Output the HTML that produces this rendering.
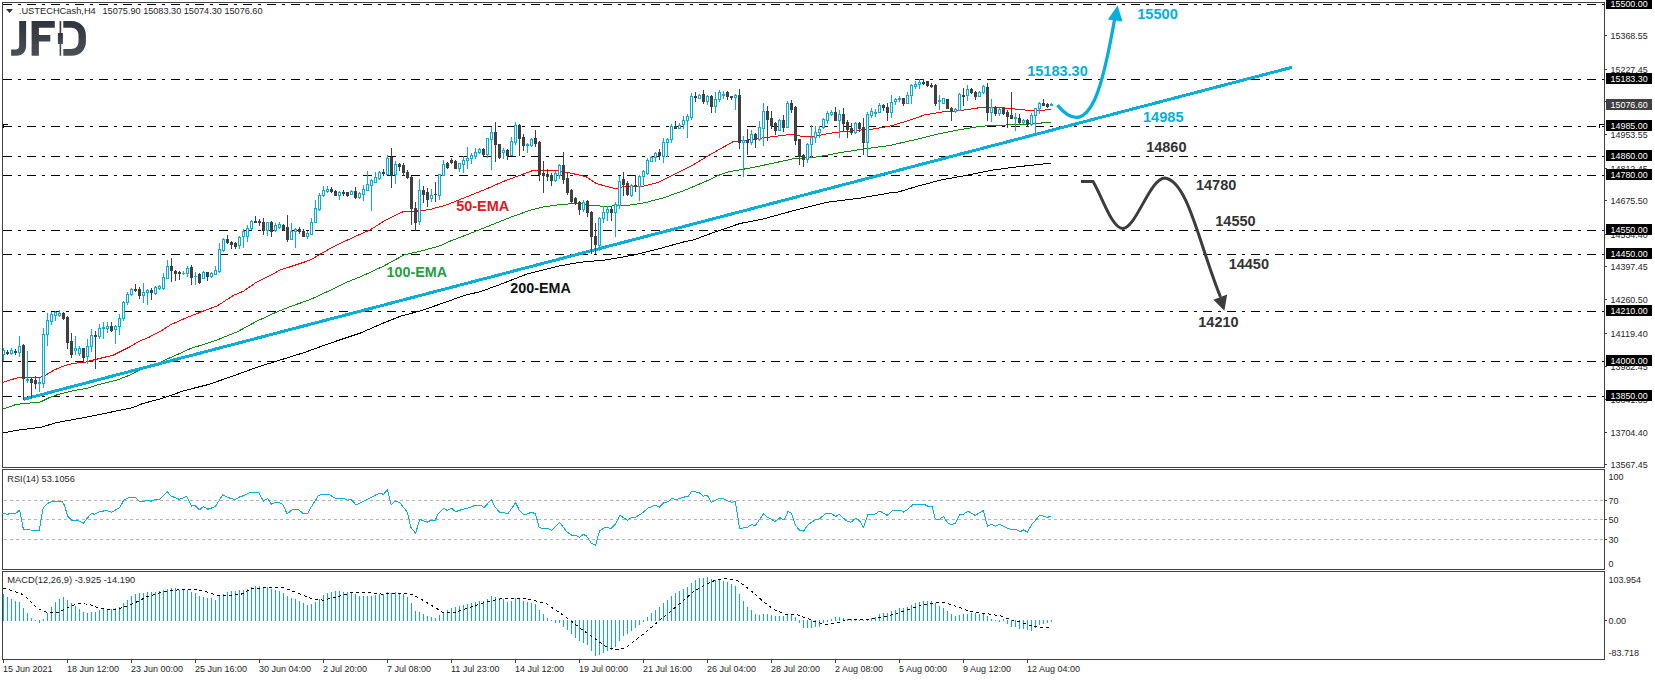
<!DOCTYPE html>
<html><head><meta charset="utf-8"><style>
html,body{margin:0;padding:0;background:#fff;width:1655px;height:680px;overflow:hidden}
svg text{font-family:"Liberation Sans",sans-serif}
</style></head><body>
<svg width="1655" height="680" viewBox="0 0 1655 680" style="display:block" font-family="Liberation Sans, sans-serif">
<rect x="0" y="0" width="1655" height="680" fill="#fff"/>
<g shape-rendering="crispEdges">
<line x1="3" y1="4.5" x2="1604" y2="4.5" stroke="#000" stroke-width="1" stroke-dasharray="9 6 3 6"/>
<line x1="3" y1="79.5" x2="1604" y2="79.5" stroke="#000" stroke-width="1" stroke-dasharray="9 6 3 6"/>
<line x1="3" y1="126.5" x2="1604" y2="126.5" stroke="#000" stroke-width="1" stroke-dasharray="9 6 3 6"/>
<line x1="3" y1="156.5" x2="1604" y2="156.5" stroke="#000" stroke-width="1" stroke-dasharray="9 6 3 6"/>
<line x1="3" y1="175.5" x2="1604" y2="175.5" stroke="#000" stroke-width="1" stroke-dasharray="9 6 3 6"/>
<line x1="3" y1="230.5" x2="1604" y2="230.5" stroke="#000" stroke-width="1" stroke-dasharray="9 6 3 6"/>
<line x1="3" y1="254.5" x2="1604" y2="254.5" stroke="#000" stroke-width="1" stroke-dasharray="9 6 3 6"/>
<line x1="3" y1="311.5" x2="1604" y2="311.5" stroke="#000" stroke-width="1" stroke-dasharray="9 6 3 6"/>
<line x1="3" y1="361.5" x2="1604" y2="361.5" stroke="#000" stroke-width="1" stroke-dasharray="9 6 3 6"/>
<line x1="3" y1="396.5" x2="1604" y2="396.5" stroke="#000" stroke-width="1" stroke-dasharray="9 6 3 6"/>
</g>
<g fill="none" stroke-width="1" shape-rendering="crispEdges">
<polyline points="2.4,433.2 16.2,430.3 40.5,427.4 56.6,422.6 80.9,418.2 105.2,413.3 132.7,407.7 142.4,403.6 160.0,399.0 169.7,395.8 184.3,390.6 208.5,384.5 232.8,376.1 257.1,367.2 276.5,361.2 305.6,352.1 320.0,346.8 336.2,341.1 360.5,333.0 384.7,322.5 400.9,316.1 420.3,310.9 443.0,303.1 465.6,295.0 480.0,291.8 500.0,284.5 526.6,274.2 559.8,265.9 579.8,262.3 606.3,259.9 632.9,255.2 659.5,248.6 686.1,241.3 693.3,240.0 717.5,231.1 722.4,229.5 740.0,223.5 762.4,219.2 794.7,210.3 827.1,202.2 859.5,198.2 890.0,192.9 896.9,192.4 915.8,186.7 941.6,179.8 967.5,175.2 993.3,170.0 1019.1,166.6 1050.9,163.1" stroke="#000"/>
<polyline points="2.4,409.3 16.2,404.4 40.5,402.0 50.2,397.2 58.3,394.4 72.8,390.7 87.4,388.3 97.1,385.0 116.5,380.2 129.4,375.3 142.4,368.8 160.0,362.3 190.7,348.5 215.0,340.8 237.7,331.6 257.1,321.0 276.5,312.1 292.7,305.7 309.1,300.0 328.5,291.1 344.7,283.0 360.9,276.6 383.6,266.1 404.1,254.9 420.3,251.2 440.0,245.8 449.4,241.4 470.5,233.3 494.7,223.6 510.9,217.2 530.3,210.2 543.3,207.0 562.7,204.2 580.0,203.6 589.7,205.2 604.3,206.4 628.5,205.2 644.7,202.8 664.1,197.6 683.6,190.7 703.0,182.6 722.4,173.7 730.0,171.5 751.0,167.9 772.1,163.4 794.7,158.5 817.4,156.9 843.3,152.1 867.5,148.5 890.0,145.4 914.1,139.9 938.2,133.9 958.8,129.9 979.5,126.5 993.3,125.3 1013.9,124.8 1034.6,123.6 1050.9,122.2" stroke="#0a8a0a"/>
<polyline points="2.4,382.6 9.7,380.2 17.8,377.7 38.8,377.7 45.3,375.3 55.0,369.6 64.7,365.6 74.4,363.2 84.1,362.4 93.9,359.9 103.6,357.5 113.3,355.1 123.0,350.2 129.4,347.0 139.2,341.3 148.9,337.3 162.4,330.1 170.5,324.8 186.6,317.6 204.4,310.7 217.4,305.8 233.6,295.3 243.3,291.3 256.2,282.4 270.8,275.1 280.0,270.1 296.2,264.8 310.7,259.9 325.3,251.2 338.3,244.2 354.4,236.9 370.6,229.6 386.8,219.4 404.6,211.0 417.5,211.0 430.0,209.5 446.2,205.0 462.4,198.5 485.0,189.6 502.8,181.6 520.6,175.1 533.6,170.2 559.4,171.0 572.4,173.5 580.0,175.3 586.5,176.9 596.2,183.4 605.9,186.3 615.6,188.6 622.1,187.0 641.5,186.6 657.7,182.6 673.9,174.5 693.3,164.8 709.4,155.1 733.7,141.3 738.1,141.1 754.3,139.1 772.1,136.7 791.5,134.3 801.2,136.2 814.1,136.2 833.6,132.7 853.0,130.7 872.4,129.1 890.0,126.1 907.2,121.0 924.4,115.0 941.6,112.0 962.3,110.3 982.9,107.2 1000.2,107.6 1013.9,108.9 1027.7,110.3 1038.0,110.3 1045.0,110.2 1046.0,109.4 1051.0,109.4" stroke="#ff0000"/>
</g>
<line x1="23.5" y1="399.3" x2="1292" y2="67.3" stroke="#05afdb" stroke-width="3" shape-rendering="crispEdges"/>
<g shape-rendering="crispEdges">
<rect x="3" y="348" width="1" height="2" fill="#05afdb"/>
<rect x="3" y="355" width="1" height="6" fill="#05afdb"/>
<rect x="2" y="350" width="3" height="5" fill="#05afdb"/>
<rect x="3" y="351" width="1" height="3" fill="#fff"/>
<rect x="7" y="350" width="1" height="5" fill="#404040"/>
<rect x="6" y="352" width="3" height="2" fill="#404040"/>
<rect x="11" y="348" width="1" height="2" fill="#05afdb"/>
<rect x="11" y="354" width="1" height="1" fill="#05afdb"/>
<rect x="10" y="350" width="3" height="4" fill="#05afdb"/>
<rect x="11" y="351" width="1" height="2" fill="#fff"/>
<rect x="15" y="349" width="1" height="6" fill="#404040"/>
<rect x="14" y="351" width="3" height="2" fill="#404040"/>
<rect x="19" y="336" width="1" height="10" fill="#05afdb"/>
<rect x="19" y="353" width="1" height="4" fill="#05afdb"/>
<rect x="18" y="346" width="3" height="7" fill="#05afdb"/>
<rect x="19" y="347" width="1" height="5" fill="#fff"/>
<rect x="23" y="344" width="1" height="56" fill="#404040"/>
<rect x="22" y="345" width="3" height="34" fill="#404040"/>
<rect x="27" y="351" width="1" height="28" fill="#05afdb"/>
<rect x="27" y="381" width="1" height="2" fill="#05afdb"/>
<rect x="26" y="379" width="3" height="2" fill="#05afdb"/>
<rect x="31" y="378" width="1" height="20" fill="#404040"/>
<rect x="30" y="379" width="3" height="4" fill="#404040"/>
<rect x="35" y="376" width="1" height="13" fill="#404040"/>
<rect x="34" y="380" width="3" height="4" fill="#404040"/>
<rect x="39" y="378" width="1" height="4" fill="#05afdb"/>
<rect x="39" y="384" width="1" height="8" fill="#05afdb"/>
<rect x="38" y="382" width="3" height="2" fill="#05afdb"/>
<rect x="43" y="328" width="1" height="6" fill="#05afdb"/>
<rect x="43" y="384" width="1" height="4" fill="#05afdb"/>
<rect x="42" y="334" width="3" height="50" fill="#05afdb"/>
<rect x="43" y="335" width="1" height="48" fill="#fff"/>
<rect x="47" y="313" width="1" height="7" fill="#05afdb"/>
<rect x="47" y="335" width="1" height="11" fill="#05afdb"/>
<rect x="46" y="320" width="3" height="15" fill="#05afdb"/>
<rect x="47" y="321" width="1" height="13" fill="#fff"/>
<rect x="51" y="312" width="1" height="2" fill="#05afdb"/>
<rect x="51" y="322" width="1" height="3" fill="#05afdb"/>
<rect x="50" y="314" width="3" height="8" fill="#05afdb"/>
<rect x="51" y="315" width="1" height="6" fill="#fff"/>
<rect x="55" y="311" width="1" height="1" fill="#05afdb"/>
<rect x="55" y="316" width="1" height="5" fill="#05afdb"/>
<rect x="54" y="312" width="3" height="4" fill="#05afdb"/>
<rect x="55" y="313" width="1" height="2" fill="#fff"/>
<rect x="59" y="310" width="1" height="3" fill="#05afdb"/>
<rect x="59" y="316" width="1" height="1" fill="#05afdb"/>
<rect x="58" y="313" width="3" height="3" fill="#05afdb"/>
<rect x="59" y="314" width="1" height="1" fill="#fff"/>
<rect x="63" y="312" width="1" height="8" fill="#404040"/>
<rect x="62" y="313" width="3" height="6" fill="#404040"/>
<rect x="67" y="316" width="1" height="33" fill="#404040"/>
<rect x="66" y="317" width="3" height="26" fill="#404040"/>
<rect x="71" y="333" width="1" height="25" fill="#404040"/>
<rect x="70" y="341" width="3" height="14" fill="#404040"/>
<rect x="75" y="336" width="1" height="12" fill="#05afdb"/>
<rect x="75" y="351" width="1" height="4" fill="#05afdb"/>
<rect x="74" y="348" width="3" height="3" fill="#05afdb"/>
<rect x="75" y="349" width="1" height="1" fill="#fff"/>
<rect x="79" y="346" width="1" height="2" fill="#05afdb"/>
<rect x="79" y="354" width="1" height="2" fill="#05afdb"/>
<rect x="78" y="348" width="3" height="6" fill="#05afdb"/>
<rect x="79" y="349" width="1" height="4" fill="#fff"/>
<rect x="83" y="348" width="1" height="15" fill="#404040"/>
<rect x="82" y="348" width="3" height="10" fill="#404040"/>
<rect x="87" y="339" width="1" height="7" fill="#05afdb"/>
<rect x="87" y="357" width="1" height="7" fill="#05afdb"/>
<rect x="86" y="346" width="3" height="11" fill="#05afdb"/>
<rect x="87" y="347" width="1" height="9" fill="#fff"/>
<rect x="91" y="329" width="1" height="6" fill="#05afdb"/>
<rect x="91" y="347" width="1" height="5" fill="#05afdb"/>
<rect x="90" y="335" width="3" height="12" fill="#05afdb"/>
<rect x="91" y="336" width="1" height="10" fill="#fff"/>
<rect x="95" y="331" width="1" height="38" fill="#404040"/>
<rect x="94" y="335" width="3" height="2" fill="#404040"/>
<rect x="99" y="324" width="1" height="4" fill="#05afdb"/>
<rect x="99" y="337" width="1" height="2" fill="#05afdb"/>
<rect x="98" y="328" width="3" height="9" fill="#05afdb"/>
<rect x="99" y="329" width="1" height="7" fill="#fff"/>
<rect x="103" y="322" width="1" height="5" fill="#05afdb"/>
<rect x="103" y="329" width="1" height="10" fill="#05afdb"/>
<rect x="102" y="327" width="3" height="2" fill="#05afdb"/>
<rect x="107" y="322" width="1" height="4" fill="#05afdb"/>
<rect x="107" y="329" width="1" height="4" fill="#05afdb"/>
<rect x="106" y="326" width="3" height="3" fill="#05afdb"/>
<rect x="107" y="327" width="1" height="1" fill="#fff"/>
<rect x="111" y="322" width="1" height="10" fill="#404040"/>
<rect x="110" y="326" width="3" height="5" fill="#404040"/>
<rect x="115" y="325" width="1" height="1" fill="#05afdb"/>
<rect x="115" y="330" width="1" height="14" fill="#05afdb"/>
<rect x="114" y="326" width="3" height="4" fill="#05afdb"/>
<rect x="115" y="327" width="1" height="2" fill="#fff"/>
<rect x="119" y="314" width="1" height="4" fill="#05afdb"/>
<rect x="119" y="327" width="1" height="8" fill="#05afdb"/>
<rect x="118" y="318" width="3" height="9" fill="#05afdb"/>
<rect x="119" y="319" width="1" height="7" fill="#fff"/>
<rect x="123" y="301" width="1" height="1" fill="#05afdb"/>
<rect x="123" y="319" width="1" height="2" fill="#05afdb"/>
<rect x="122" y="302" width="3" height="17" fill="#05afdb"/>
<rect x="123" y="303" width="1" height="15" fill="#fff"/>
<rect x="127" y="292" width="1" height="2" fill="#05afdb"/>
<rect x="127" y="303" width="1" height="2" fill="#05afdb"/>
<rect x="126" y="294" width="3" height="9" fill="#05afdb"/>
<rect x="127" y="295" width="1" height="7" fill="#fff"/>
<rect x="131" y="288" width="1" height="1" fill="#05afdb"/>
<rect x="131" y="295" width="1" height="1" fill="#05afdb"/>
<rect x="130" y="289" width="3" height="6" fill="#05afdb"/>
<rect x="131" y="290" width="1" height="4" fill="#fff"/>
<rect x="135" y="284" width="1" height="8" fill="#404040"/>
<rect x="134" y="289" width="3" height="2" fill="#404040"/>
<rect x="139" y="287" width="1" height="12" fill="#404040"/>
<rect x="138" y="289" width="3" height="7" fill="#404040"/>
<rect x="143" y="283" width="1" height="9" fill="#05afdb"/>
<rect x="143" y="296" width="1" height="7" fill="#05afdb"/>
<rect x="142" y="292" width="3" height="4" fill="#05afdb"/>
<rect x="143" y="293" width="1" height="2" fill="#fff"/>
<rect x="147" y="289" width="1" height="1" fill="#05afdb"/>
<rect x="147" y="293" width="1" height="12" fill="#05afdb"/>
<rect x="146" y="290" width="3" height="3" fill="#05afdb"/>
<rect x="147" y="291" width="1" height="1" fill="#fff"/>
<rect x="151" y="288" width="1" height="12" fill="#404040"/>
<rect x="150" y="290" width="3" height="3" fill="#404040"/>
<rect x="155" y="286" width="1" height="1" fill="#05afdb"/>
<rect x="155" y="294" width="1" height="1" fill="#05afdb"/>
<rect x="154" y="287" width="3" height="7" fill="#05afdb"/>
<rect x="155" y="288" width="1" height="5" fill="#fff"/>
<rect x="159" y="285" width="1" height="1" fill="#05afdb"/>
<rect x="159" y="289" width="1" height="1" fill="#05afdb"/>
<rect x="158" y="286" width="3" height="3" fill="#05afdb"/>
<rect x="159" y="287" width="1" height="1" fill="#fff"/>
<rect x="163" y="273" width="1" height="4" fill="#05afdb"/>
<rect x="163" y="289" width="1" height="1" fill="#05afdb"/>
<rect x="162" y="277" width="3" height="12" fill="#05afdb"/>
<rect x="163" y="278" width="1" height="10" fill="#fff"/>
<rect x="167" y="260" width="1" height="6" fill="#05afdb"/>
<rect x="166" y="266" width="3" height="13" fill="#05afdb"/>
<rect x="167" y="267" width="1" height="11" fill="#fff"/>
<rect x="171" y="258" width="1" height="24" fill="#404040"/>
<rect x="170" y="266" width="3" height="5" fill="#404040"/>
<rect x="175" y="270" width="1" height="11" fill="#404040"/>
<rect x="174" y="271" width="3" height="3" fill="#404040"/>
<rect x="179" y="271" width="1" height="9" fill="#404040"/>
<rect x="178" y="272" width="3" height="2" fill="#404040"/>
<rect x="183" y="271" width="1" height="2" fill="#05afdb"/>
<rect x="183" y="274" width="1" height="1" fill="#05afdb"/>
<rect x="182" y="273" width="3" height="1" fill="#05afdb"/>
<rect x="187" y="266" width="1" height="2" fill="#05afdb"/>
<rect x="187" y="274" width="1" height="3" fill="#05afdb"/>
<rect x="186" y="268" width="3" height="6" fill="#05afdb"/>
<rect x="187" y="269" width="1" height="4" fill="#fff"/>
<rect x="191" y="265" width="1" height="20" fill="#404040"/>
<rect x="190" y="267" width="3" height="11" fill="#404040"/>
<rect x="195" y="272" width="1" height="4" fill="#05afdb"/>
<rect x="195" y="277" width="1" height="8" fill="#05afdb"/>
<rect x="194" y="276" width="3" height="1" fill="#05afdb"/>
<rect x="199" y="273" width="1" height="11" fill="#404040"/>
<rect x="198" y="274" width="3" height="9" fill="#404040"/>
<rect x="203" y="271" width="1" height="1" fill="#05afdb"/>
<rect x="202" y="272" width="3" height="7" fill="#05afdb"/>
<rect x="203" y="273" width="1" height="5" fill="#fff"/>
<rect x="207" y="272" width="1" height="9" fill="#404040"/>
<rect x="206" y="272" width="3" height="5" fill="#404040"/>
<rect x="211" y="272" width="1" height="1" fill="#05afdb"/>
<rect x="211" y="277" width="1" height="1" fill="#05afdb"/>
<rect x="210" y="273" width="3" height="4" fill="#05afdb"/>
<rect x="211" y="274" width="1" height="2" fill="#fff"/>
<rect x="215" y="266" width="1" height="4" fill="#05afdb"/>
<rect x="214" y="270" width="3" height="5" fill="#05afdb"/>
<rect x="215" y="271" width="1" height="3" fill="#fff"/>
<rect x="219" y="243" width="1" height="6" fill="#05afdb"/>
<rect x="219" y="272" width="1" height="1" fill="#05afdb"/>
<rect x="218" y="249" width="3" height="23" fill="#05afdb"/>
<rect x="219" y="250" width="1" height="21" fill="#fff"/>
<rect x="223" y="238" width="1" height="1" fill="#05afdb"/>
<rect x="223" y="251" width="1" height="1" fill="#05afdb"/>
<rect x="222" y="239" width="3" height="12" fill="#05afdb"/>
<rect x="223" y="240" width="1" height="10" fill="#fff"/>
<rect x="227" y="235" width="1" height="9" fill="#404040"/>
<rect x="226" y="239" width="3" height="4" fill="#404040"/>
<rect x="231" y="241" width="1" height="8" fill="#404040"/>
<rect x="230" y="242" width="3" height="3" fill="#404040"/>
<rect x="235" y="242" width="1" height="7" fill="#404040"/>
<rect x="234" y="243" width="3" height="4" fill="#404040"/>
<rect x="239" y="236" width="1" height="1" fill="#05afdb"/>
<rect x="239" y="246" width="1" height="3" fill="#05afdb"/>
<rect x="238" y="237" width="3" height="9" fill="#05afdb"/>
<rect x="239" y="238" width="1" height="7" fill="#fff"/>
<rect x="243" y="229" width="1" height="2" fill="#05afdb"/>
<rect x="243" y="237" width="1" height="11" fill="#05afdb"/>
<rect x="242" y="231" width="3" height="6" fill="#05afdb"/>
<rect x="243" y="232" width="1" height="4" fill="#fff"/>
<rect x="247" y="225" width="1" height="3" fill="#05afdb"/>
<rect x="247" y="237" width="1" height="5" fill="#05afdb"/>
<rect x="246" y="228" width="3" height="9" fill="#05afdb"/>
<rect x="247" y="229" width="1" height="7" fill="#fff"/>
<rect x="251" y="220" width="1" height="1" fill="#05afdb"/>
<rect x="251" y="229" width="1" height="1" fill="#05afdb"/>
<rect x="250" y="221" width="3" height="8" fill="#05afdb"/>
<rect x="251" y="222" width="1" height="6" fill="#fff"/>
<rect x="255" y="216" width="1" height="7" fill="#404040"/>
<rect x="254" y="221" width="3" height="2" fill="#404040"/>
<rect x="259" y="219" width="1" height="7" fill="#404040"/>
<rect x="258" y="221" width="3" height="2" fill="#404040"/>
<rect x="263" y="218" width="1" height="17" fill="#404040"/>
<rect x="262" y="222" width="3" height="9" fill="#404040"/>
<rect x="267" y="231" width="1" height="5" fill="#05afdb"/>
<rect x="266" y="222" width="3" height="9" fill="#05afdb"/>
<rect x="267" y="223" width="1" height="7" fill="#fff"/>
<rect x="271" y="221" width="1" height="16" fill="#404040"/>
<rect x="270" y="222" width="3" height="10" fill="#404040"/>
<rect x="275" y="223" width="1" height="2" fill="#05afdb"/>
<rect x="275" y="231" width="1" height="1" fill="#05afdb"/>
<rect x="274" y="225" width="3" height="6" fill="#05afdb"/>
<rect x="275" y="226" width="1" height="4" fill="#fff"/>
<rect x="279" y="222" width="1" height="2" fill="#05afdb"/>
<rect x="279" y="228" width="1" height="1" fill="#05afdb"/>
<rect x="278" y="224" width="3" height="4" fill="#05afdb"/>
<rect x="279" y="225" width="1" height="2" fill="#fff"/>
<rect x="283" y="224" width="1" height="7" fill="#404040"/>
<rect x="282" y="225" width="3" height="5" fill="#404040"/>
<rect x="287" y="215" width="1" height="27" fill="#404040"/>
<rect x="286" y="227" width="3" height="13" fill="#404040"/>
<rect x="291" y="223" width="1" height="8" fill="#05afdb"/>
<rect x="290" y="231" width="3" height="9" fill="#05afdb"/>
<rect x="291" y="232" width="1" height="7" fill="#fff"/>
<rect x="295" y="228" width="1" height="1" fill="#05afdb"/>
<rect x="295" y="232" width="1" height="16" fill="#05afdb"/>
<rect x="294" y="229" width="3" height="3" fill="#05afdb"/>
<rect x="295" y="230" width="1" height="1" fill="#fff"/>
<rect x="299" y="227" width="1" height="7" fill="#404040"/>
<rect x="298" y="229" width="3" height="3" fill="#404040"/>
<rect x="303" y="229" width="1" height="8" fill="#404040"/>
<rect x="302" y="231" width="3" height="6" fill="#404040"/>
<rect x="307" y="231" width="1" height="2" fill="#05afdb"/>
<rect x="307" y="237" width="1" height="2" fill="#05afdb"/>
<rect x="306" y="233" width="3" height="4" fill="#05afdb"/>
<rect x="307" y="234" width="1" height="2" fill="#fff"/>
<rect x="311" y="218" width="1" height="4" fill="#05afdb"/>
<rect x="310" y="222" width="3" height="13" fill="#05afdb"/>
<rect x="311" y="223" width="1" height="11" fill="#fff"/>
<rect x="315" y="200" width="1" height="8" fill="#05afdb"/>
<rect x="314" y="208" width="3" height="15" fill="#05afdb"/>
<rect x="315" y="209" width="1" height="13" fill="#fff"/>
<rect x="319" y="193" width="1" height="2" fill="#05afdb"/>
<rect x="319" y="210" width="1" height="1" fill="#05afdb"/>
<rect x="318" y="195" width="3" height="15" fill="#05afdb"/>
<rect x="319" y="196" width="1" height="13" fill="#fff"/>
<rect x="323" y="186" width="1" height="4" fill="#05afdb"/>
<rect x="323" y="196" width="1" height="1" fill="#05afdb"/>
<rect x="322" y="190" width="3" height="6" fill="#05afdb"/>
<rect x="323" y="191" width="1" height="4" fill="#fff"/>
<rect x="327" y="186" width="1" height="3" fill="#05afdb"/>
<rect x="327" y="192" width="1" height="1" fill="#05afdb"/>
<rect x="326" y="189" width="3" height="3" fill="#05afdb"/>
<rect x="327" y="190" width="1" height="1" fill="#fff"/>
<rect x="331" y="187" width="1" height="6" fill="#404040"/>
<rect x="330" y="189" width="3" height="3" fill="#404040"/>
<rect x="335" y="190" width="1" height="6" fill="#404040"/>
<rect x="334" y="191" width="3" height="5" fill="#404040"/>
<rect x="339" y="191" width="1" height="1" fill="#05afdb"/>
<rect x="339" y="196" width="1" height="4" fill="#05afdb"/>
<rect x="338" y="192" width="3" height="4" fill="#05afdb"/>
<rect x="339" y="193" width="1" height="2" fill="#fff"/>
<rect x="343" y="190" width="1" height="6" fill="#404040"/>
<rect x="342" y="192" width="3" height="2" fill="#404040"/>
<rect x="347" y="192" width="1" height="5" fill="#404040"/>
<rect x="346" y="192" width="3" height="4" fill="#404040"/>
<rect x="351" y="190" width="1" height="1" fill="#05afdb"/>
<rect x="350" y="191" width="3" height="4" fill="#05afdb"/>
<rect x="351" y="192" width="1" height="2" fill="#fff"/>
<rect x="355" y="187" width="1" height="12" fill="#404040"/>
<rect x="354" y="191" width="3" height="7" fill="#404040"/>
<rect x="359" y="192" width="1" height="1" fill="#05afdb"/>
<rect x="359" y="198" width="1" height="1" fill="#05afdb"/>
<rect x="358" y="193" width="3" height="5" fill="#05afdb"/>
<rect x="359" y="194" width="1" height="3" fill="#fff"/>
<rect x="363" y="185" width="1" height="4" fill="#05afdb"/>
<rect x="363" y="195" width="1" height="6" fill="#05afdb"/>
<rect x="362" y="189" width="3" height="6" fill="#05afdb"/>
<rect x="363" y="190" width="1" height="4" fill="#fff"/>
<rect x="367" y="171" width="1" height="13" fill="#05afdb"/>
<rect x="366" y="184" width="3" height="7" fill="#05afdb"/>
<rect x="367" y="185" width="1" height="5" fill="#fff"/>
<rect x="371" y="179" width="1" height="1" fill="#05afdb"/>
<rect x="371" y="186" width="1" height="25" fill="#05afdb"/>
<rect x="370" y="180" width="3" height="6" fill="#05afdb"/>
<rect x="371" y="181" width="1" height="4" fill="#fff"/>
<rect x="375" y="172" width="1" height="5" fill="#05afdb"/>
<rect x="374" y="177" width="3" height="6" fill="#05afdb"/>
<rect x="375" y="178" width="1" height="4" fill="#fff"/>
<rect x="379" y="171" width="1" height="1" fill="#05afdb"/>
<rect x="379" y="179" width="1" height="1" fill="#05afdb"/>
<rect x="378" y="172" width="3" height="7" fill="#05afdb"/>
<rect x="379" y="173" width="1" height="5" fill="#fff"/>
<rect x="383" y="169" width="1" height="7" fill="#404040"/>
<rect x="382" y="172" width="3" height="2" fill="#404040"/>
<rect x="387" y="155" width="1" height="3" fill="#05afdb"/>
<rect x="386" y="158" width="3" height="17" fill="#05afdb"/>
<rect x="387" y="159" width="1" height="15" fill="#fff"/>
<rect x="391" y="148" width="1" height="40" fill="#404040"/>
<rect x="390" y="157" width="3" height="19" fill="#404040"/>
<rect x="395" y="161" width="1" height="3" fill="#05afdb"/>
<rect x="395" y="175" width="1" height="9" fill="#05afdb"/>
<rect x="394" y="164" width="3" height="11" fill="#05afdb"/>
<rect x="395" y="165" width="1" height="9" fill="#fff"/>
<rect x="399" y="163" width="1" height="8" fill="#404040"/>
<rect x="398" y="164" width="3" height="3" fill="#404040"/>
<rect x="403" y="163" width="1" height="13" fill="#404040"/>
<rect x="402" y="165" width="3" height="8" fill="#404040"/>
<rect x="407" y="170" width="1" height="9" fill="#404040"/>
<rect x="406" y="172" width="3" height="6" fill="#404040"/>
<rect x="411" y="176" width="1" height="49" fill="#404040"/>
<rect x="410" y="177" width="3" height="32" fill="#404040"/>
<rect x="415" y="202" width="1" height="29" fill="#404040"/>
<rect x="414" y="208" width="3" height="15" fill="#404040"/>
<rect x="419" y="179" width="1" height="11" fill="#05afdb"/>
<rect x="419" y="222" width="1" height="3" fill="#05afdb"/>
<rect x="418" y="190" width="3" height="32" fill="#05afdb"/>
<rect x="419" y="191" width="1" height="30" fill="#fff"/>
<rect x="423" y="186" width="1" height="17" fill="#404040"/>
<rect x="422" y="190" width="3" height="5" fill="#404040"/>
<rect x="427" y="188" width="1" height="19" fill="#404040"/>
<rect x="426" y="192" width="3" height="8" fill="#404040"/>
<rect x="431" y="189" width="1" height="6" fill="#05afdb"/>
<rect x="431" y="199" width="1" height="3" fill="#05afdb"/>
<rect x="430" y="195" width="3" height="4" fill="#05afdb"/>
<rect x="431" y="196" width="1" height="2" fill="#fff"/>
<rect x="435" y="182" width="1" height="20" fill="#404040"/>
<rect x="434" y="194" width="3" height="1" fill="#404040"/>
<rect x="439" y="196" width="1" height="4" fill="#05afdb"/>
<rect x="438" y="174" width="3" height="22" fill="#05afdb"/>
<rect x="439" y="175" width="1" height="20" fill="#fff"/>
<rect x="443" y="160" width="1" height="4" fill="#05afdb"/>
<rect x="442" y="164" width="3" height="12" fill="#05afdb"/>
<rect x="443" y="165" width="1" height="10" fill="#fff"/>
<rect x="447" y="162" width="1" height="7" fill="#404040"/>
<rect x="446" y="163" width="3" height="5" fill="#404040"/>
<rect x="451" y="158" width="1" height="6" fill="#404040"/>
<rect x="450" y="160" width="3" height="3" fill="#404040"/>
<rect x="455" y="160" width="1" height="9" fill="#404040"/>
<rect x="454" y="161" width="3" height="8" fill="#404040"/>
<rect x="459" y="169" width="1" height="3" fill="#05afdb"/>
<rect x="458" y="163" width="3" height="6" fill="#05afdb"/>
<rect x="459" y="164" width="1" height="4" fill="#fff"/>
<rect x="463" y="156" width="1" height="4" fill="#05afdb"/>
<rect x="463" y="165" width="1" height="8" fill="#05afdb"/>
<rect x="462" y="160" width="3" height="5" fill="#05afdb"/>
<rect x="463" y="161" width="1" height="3" fill="#fff"/>
<rect x="467" y="147" width="1" height="11" fill="#05afdb"/>
<rect x="467" y="161" width="1" height="8" fill="#05afdb"/>
<rect x="466" y="158" width="3" height="3" fill="#05afdb"/>
<rect x="467" y="159" width="1" height="1" fill="#fff"/>
<rect x="471" y="153" width="1" height="2" fill="#05afdb"/>
<rect x="471" y="159" width="1" height="5" fill="#05afdb"/>
<rect x="470" y="155" width="3" height="4" fill="#05afdb"/>
<rect x="471" y="156" width="1" height="2" fill="#fff"/>
<rect x="475" y="148" width="1" height="4" fill="#05afdb"/>
<rect x="475" y="157" width="1" height="2" fill="#05afdb"/>
<rect x="474" y="152" width="3" height="5" fill="#05afdb"/>
<rect x="475" y="153" width="1" height="3" fill="#fff"/>
<rect x="479" y="148" width="1" height="1" fill="#05afdb"/>
<rect x="479" y="153" width="1" height="1" fill="#05afdb"/>
<rect x="478" y="149" width="3" height="4" fill="#05afdb"/>
<rect x="479" y="150" width="1" height="2" fill="#fff"/>
<rect x="483" y="148" width="1" height="8" fill="#404040"/>
<rect x="482" y="149" width="3" height="6" fill="#404040"/>
<rect x="487" y="155" width="1" height="3" fill="#05afdb"/>
<rect x="486" y="138" width="3" height="17" fill="#05afdb"/>
<rect x="487" y="139" width="1" height="15" fill="#fff"/>
<rect x="491" y="127" width="1" height="5" fill="#05afdb"/>
<rect x="491" y="140" width="1" height="30" fill="#05afdb"/>
<rect x="490" y="132" width="3" height="8" fill="#05afdb"/>
<rect x="491" y="133" width="1" height="6" fill="#fff"/>
<rect x="495" y="122" width="1" height="40" fill="#404040"/>
<rect x="494" y="132" width="3" height="13" fill="#404040"/>
<rect x="499" y="144" width="1" height="15" fill="#404040"/>
<rect x="498" y="144" width="3" height="14" fill="#404040"/>
<rect x="503" y="148" width="1" height="2" fill="#05afdb"/>
<rect x="503" y="153" width="1" height="6" fill="#05afdb"/>
<rect x="502" y="150" width="3" height="3" fill="#05afdb"/>
<rect x="503" y="151" width="1" height="1" fill="#fff"/>
<rect x="507" y="149" width="1" height="11" fill="#404040"/>
<rect x="506" y="150" width="3" height="6" fill="#404040"/>
<rect x="511" y="137" width="1" height="4" fill="#05afdb"/>
<rect x="510" y="141" width="3" height="15" fill="#05afdb"/>
<rect x="511" y="142" width="1" height="13" fill="#fff"/>
<rect x="515" y="122" width="1" height="3" fill="#05afdb"/>
<rect x="515" y="143" width="1" height="2" fill="#05afdb"/>
<rect x="514" y="125" width="3" height="18" fill="#05afdb"/>
<rect x="515" y="126" width="1" height="16" fill="#fff"/>
<rect x="519" y="124" width="1" height="32" fill="#404040"/>
<rect x="518" y="125" width="3" height="14" fill="#404040"/>
<rect x="523" y="134" width="1" height="17" fill="#404040"/>
<rect x="522" y="137" width="3" height="9" fill="#404040"/>
<rect x="527" y="143" width="1" height="1" fill="#05afdb"/>
<rect x="527" y="146" width="1" height="7" fill="#05afdb"/>
<rect x="526" y="144" width="3" height="2" fill="#05afdb"/>
<rect x="531" y="138" width="1" height="1" fill="#05afdb"/>
<rect x="531" y="146" width="1" height="1" fill="#05afdb"/>
<rect x="530" y="139" width="3" height="7" fill="#05afdb"/>
<rect x="531" y="140" width="1" height="5" fill="#fff"/>
<rect x="535" y="130" width="1" height="17" fill="#404040"/>
<rect x="534" y="138" width="3" height="6" fill="#404040"/>
<rect x="539" y="141" width="1" height="40" fill="#404040"/>
<rect x="538" y="142" width="3" height="33" fill="#404040"/>
<rect x="543" y="161" width="1" height="32" fill="#404040"/>
<rect x="542" y="173" width="3" height="3" fill="#404040"/>
<rect x="547" y="169" width="1" height="12" fill="#404040"/>
<rect x="546" y="174" width="3" height="3" fill="#404040"/>
<rect x="551" y="173" width="1" height="13" fill="#404040"/>
<rect x="550" y="175" width="3" height="6" fill="#404040"/>
<rect x="555" y="171" width="1" height="2" fill="#05afdb"/>
<rect x="555" y="181" width="1" height="1" fill="#05afdb"/>
<rect x="554" y="173" width="3" height="8" fill="#05afdb"/>
<rect x="555" y="174" width="1" height="6" fill="#fff"/>
<rect x="559" y="164" width="1" height="1" fill="#05afdb"/>
<rect x="559" y="176" width="1" height="3" fill="#05afdb"/>
<rect x="558" y="165" width="3" height="11" fill="#05afdb"/>
<rect x="559" y="166" width="1" height="9" fill="#fff"/>
<rect x="563" y="152" width="1" height="32" fill="#404040"/>
<rect x="562" y="165" width="3" height="15" fill="#404040"/>
<rect x="567" y="172" width="1" height="23" fill="#404040"/>
<rect x="566" y="178" width="3" height="15" fill="#404040"/>
<rect x="571" y="189" width="1" height="15" fill="#404040"/>
<rect x="570" y="190" width="3" height="12" fill="#404040"/>
<rect x="575" y="197" width="1" height="8" fill="#404040"/>
<rect x="574" y="198" width="3" height="5" fill="#404040"/>
<rect x="579" y="201" width="1" height="14" fill="#404040"/>
<rect x="578" y="202" width="3" height="8" fill="#404040"/>
<rect x="583" y="200" width="1" height="2" fill="#05afdb"/>
<rect x="583" y="210" width="1" height="2" fill="#05afdb"/>
<rect x="582" y="202" width="3" height="8" fill="#05afdb"/>
<rect x="583" y="203" width="1" height="6" fill="#fff"/>
<rect x="587" y="200" width="1" height="17" fill="#404040"/>
<rect x="586" y="201" width="3" height="12" fill="#404040"/>
<rect x="591" y="211" width="1" height="43" fill="#404040"/>
<rect x="590" y="212" width="3" height="25" fill="#404040"/>
<rect x="595" y="223" width="1" height="31" fill="#404040"/>
<rect x="594" y="236" width="3" height="9" fill="#404040"/>
<rect x="599" y="217" width="1" height="1" fill="#05afdb"/>
<rect x="599" y="246" width="1" height="5" fill="#05afdb"/>
<rect x="598" y="218" width="3" height="28" fill="#05afdb"/>
<rect x="599" y="219" width="1" height="26" fill="#fff"/>
<rect x="603" y="206" width="1" height="6" fill="#05afdb"/>
<rect x="603" y="219" width="1" height="4" fill="#05afdb"/>
<rect x="602" y="212" width="3" height="7" fill="#05afdb"/>
<rect x="603" y="213" width="1" height="5" fill="#fff"/>
<rect x="607" y="206" width="1" height="3" fill="#05afdb"/>
<rect x="607" y="213" width="1" height="8" fill="#05afdb"/>
<rect x="606" y="209" width="3" height="4" fill="#05afdb"/>
<rect x="607" y="210" width="1" height="2" fill="#fff"/>
<rect x="611" y="206" width="1" height="15" fill="#404040"/>
<rect x="610" y="209" width="3" height="4" fill="#404040"/>
<rect x="615" y="202" width="1" height="2" fill="#05afdb"/>
<rect x="615" y="213" width="1" height="24" fill="#05afdb"/>
<rect x="614" y="204" width="3" height="9" fill="#05afdb"/>
<rect x="615" y="205" width="1" height="7" fill="#fff"/>
<rect x="619" y="176" width="1" height="5" fill="#05afdb"/>
<rect x="619" y="206" width="1" height="3" fill="#05afdb"/>
<rect x="618" y="181" width="3" height="25" fill="#05afdb"/>
<rect x="619" y="182" width="1" height="23" fill="#fff"/>
<rect x="623" y="172" width="1" height="24" fill="#404040"/>
<rect x="622" y="179" width="3" height="6" fill="#404040"/>
<rect x="627" y="181" width="1" height="15" fill="#404040"/>
<rect x="626" y="183" width="3" height="12" fill="#404040"/>
<rect x="631" y="184" width="1" height="1" fill="#05afdb"/>
<rect x="631" y="196" width="1" height="1" fill="#05afdb"/>
<rect x="630" y="185" width="3" height="11" fill="#05afdb"/>
<rect x="631" y="186" width="1" height="9" fill="#fff"/>
<rect x="635" y="175" width="1" height="17" fill="#404040"/>
<rect x="634" y="185" width="3" height="2" fill="#404040"/>
<rect x="639" y="175" width="1" height="1" fill="#05afdb"/>
<rect x="639" y="187" width="1" height="14" fill="#05afdb"/>
<rect x="638" y="176" width="3" height="11" fill="#05afdb"/>
<rect x="639" y="177" width="1" height="9" fill="#fff"/>
<rect x="643" y="170" width="1" height="1" fill="#05afdb"/>
<rect x="643" y="177" width="1" height="8" fill="#05afdb"/>
<rect x="642" y="171" width="3" height="6" fill="#05afdb"/>
<rect x="643" y="172" width="1" height="4" fill="#fff"/>
<rect x="647" y="158" width="1" height="2" fill="#05afdb"/>
<rect x="647" y="174" width="1" height="1" fill="#05afdb"/>
<rect x="646" y="160" width="3" height="14" fill="#05afdb"/>
<rect x="647" y="161" width="1" height="12" fill="#fff"/>
<rect x="651" y="156" width="1" height="1" fill="#05afdb"/>
<rect x="650" y="157" width="3" height="5" fill="#05afdb"/>
<rect x="651" y="158" width="1" height="3" fill="#fff"/>
<rect x="655" y="152" width="1" height="1" fill="#05afdb"/>
<rect x="655" y="158" width="1" height="4" fill="#05afdb"/>
<rect x="654" y="153" width="3" height="5" fill="#05afdb"/>
<rect x="655" y="154" width="1" height="3" fill="#fff"/>
<rect x="659" y="149" width="1" height="11" fill="#404040"/>
<rect x="658" y="152" width="3" height="4" fill="#404040"/>
<rect x="663" y="138" width="1" height="4" fill="#05afdb"/>
<rect x="663" y="157" width="1" height="6" fill="#05afdb"/>
<rect x="662" y="142" width="3" height="15" fill="#05afdb"/>
<rect x="663" y="143" width="1" height="13" fill="#fff"/>
<rect x="667" y="138" width="1" height="1" fill="#05afdb"/>
<rect x="667" y="143" width="1" height="14" fill="#05afdb"/>
<rect x="666" y="139" width="3" height="4" fill="#05afdb"/>
<rect x="667" y="140" width="1" height="2" fill="#fff"/>
<rect x="671" y="124" width="1" height="2" fill="#05afdb"/>
<rect x="671" y="140" width="1" height="3" fill="#05afdb"/>
<rect x="670" y="126" width="3" height="14" fill="#05afdb"/>
<rect x="671" y="127" width="1" height="12" fill="#fff"/>
<rect x="675" y="121" width="1" height="8" fill="#404040"/>
<rect x="674" y="126" width="3" height="3" fill="#404040"/>
<rect x="679" y="123" width="1" height="2" fill="#05afdb"/>
<rect x="678" y="125" width="3" height="4" fill="#05afdb"/>
<rect x="679" y="126" width="1" height="2" fill="#fff"/>
<rect x="683" y="116" width="1" height="4" fill="#05afdb"/>
<rect x="683" y="125" width="1" height="4" fill="#05afdb"/>
<rect x="682" y="120" width="3" height="5" fill="#05afdb"/>
<rect x="683" y="121" width="1" height="3" fill="#fff"/>
<rect x="687" y="114" width="1" height="2" fill="#05afdb"/>
<rect x="687" y="121" width="1" height="17" fill="#05afdb"/>
<rect x="686" y="116" width="3" height="5" fill="#05afdb"/>
<rect x="687" y="117" width="1" height="3" fill="#fff"/>
<rect x="691" y="93" width="1" height="3" fill="#05afdb"/>
<rect x="691" y="118" width="1" height="2" fill="#05afdb"/>
<rect x="690" y="96" width="3" height="22" fill="#05afdb"/>
<rect x="691" y="97" width="1" height="20" fill="#fff"/>
<rect x="695" y="92" width="1" height="10" fill="#404040"/>
<rect x="694" y="96" width="3" height="2" fill="#404040"/>
<rect x="699" y="94" width="1" height="1" fill="#05afdb"/>
<rect x="698" y="95" width="3" height="4" fill="#05afdb"/>
<rect x="699" y="96" width="1" height="2" fill="#fff"/>
<rect x="703" y="90" width="1" height="14" fill="#404040"/>
<rect x="702" y="94" width="3" height="8" fill="#404040"/>
<rect x="707" y="95" width="1" height="1" fill="#05afdb"/>
<rect x="707" y="102" width="1" height="3" fill="#05afdb"/>
<rect x="706" y="96" width="3" height="6" fill="#05afdb"/>
<rect x="707" y="97" width="1" height="4" fill="#fff"/>
<rect x="711" y="95" width="1" height="18" fill="#404040"/>
<rect x="710" y="96" width="3" height="11" fill="#404040"/>
<rect x="715" y="92" width="1" height="7" fill="#05afdb"/>
<rect x="715" y="107" width="1" height="6" fill="#05afdb"/>
<rect x="714" y="99" width="3" height="8" fill="#05afdb"/>
<rect x="715" y="100" width="1" height="6" fill="#fff"/>
<rect x="719" y="90" width="1" height="2" fill="#05afdb"/>
<rect x="719" y="100" width="1" height="2" fill="#05afdb"/>
<rect x="718" y="92" width="3" height="8" fill="#05afdb"/>
<rect x="719" y="93" width="1" height="6" fill="#fff"/>
<rect x="723" y="91" width="1" height="3" fill="#05afdb"/>
<rect x="723" y="96" width="1" height="3" fill="#05afdb"/>
<rect x="722" y="94" width="3" height="2" fill="#05afdb"/>
<rect x="727" y="91" width="1" height="9" fill="#404040"/>
<rect x="726" y="92" width="3" height="5" fill="#404040"/>
<rect x="731" y="96" width="1" height="4" fill="#404040"/>
<rect x="730" y="96" width="3" height="2" fill="#404040"/>
<rect x="735" y="94" width="1" height="1" fill="#05afdb"/>
<rect x="735" y="98" width="1" height="12" fill="#05afdb"/>
<rect x="734" y="95" width="3" height="3" fill="#05afdb"/>
<rect x="735" y="96" width="1" height="1" fill="#fff"/>
<rect x="739" y="89" width="1" height="60" fill="#404040"/>
<rect x="738" y="95" width="3" height="48" fill="#404040"/>
<rect x="743" y="136" width="1" height="4" fill="#05afdb"/>
<rect x="743" y="143" width="1" height="34" fill="#05afdb"/>
<rect x="742" y="140" width="3" height="3" fill="#05afdb"/>
<rect x="743" y="141" width="1" height="1" fill="#fff"/>
<rect x="747" y="129" width="1" height="26" fill="#404040"/>
<rect x="746" y="140" width="3" height="3" fill="#404040"/>
<rect x="751" y="130" width="1" height="4" fill="#05afdb"/>
<rect x="751" y="143" width="1" height="2" fill="#05afdb"/>
<rect x="750" y="134" width="3" height="9" fill="#05afdb"/>
<rect x="751" y="135" width="1" height="7" fill="#fff"/>
<rect x="755" y="133" width="1" height="15" fill="#404040"/>
<rect x="754" y="134" width="3" height="6" fill="#404040"/>
<rect x="759" y="121" width="1" height="6" fill="#05afdb"/>
<rect x="759" y="140" width="1" height="1" fill="#05afdb"/>
<rect x="758" y="127" width="3" height="13" fill="#05afdb"/>
<rect x="759" y="128" width="1" height="11" fill="#fff"/>
<rect x="763" y="103" width="1" height="8" fill="#05afdb"/>
<rect x="763" y="129" width="1" height="17" fill="#05afdb"/>
<rect x="762" y="111" width="3" height="18" fill="#05afdb"/>
<rect x="763" y="112" width="1" height="16" fill="#fff"/>
<rect x="767" y="106" width="1" height="35" fill="#404040"/>
<rect x="766" y="111" width="3" height="9" fill="#404040"/>
<rect x="771" y="111" width="1" height="18" fill="#404040"/>
<rect x="770" y="118" width="3" height="8" fill="#404040"/>
<rect x="775" y="122" width="1" height="13" fill="#404040"/>
<rect x="774" y="123" width="3" height="8" fill="#404040"/>
<rect x="779" y="119" width="1" height="1" fill="#05afdb"/>
<rect x="778" y="120" width="3" height="11" fill="#05afdb"/>
<rect x="779" y="121" width="1" height="9" fill="#fff"/>
<rect x="783" y="115" width="1" height="17" fill="#404040"/>
<rect x="782" y="120" width="3" height="8" fill="#404040"/>
<rect x="787" y="101" width="1" height="2" fill="#05afdb"/>
<rect x="786" y="103" width="3" height="25" fill="#05afdb"/>
<rect x="787" y="104" width="1" height="23" fill="#fff"/>
<rect x="791" y="100" width="1" height="13" fill="#404040"/>
<rect x="790" y="103" width="3" height="7" fill="#404040"/>
<rect x="795" y="106" width="1" height="39" fill="#404040"/>
<rect x="794" y="107" width="3" height="34" fill="#404040"/>
<rect x="799" y="139" width="1" height="26" fill="#404040"/>
<rect x="798" y="139" width="3" height="18" fill="#404040"/>
<rect x="803" y="154" width="1" height="13" fill="#404040"/>
<rect x="802" y="155" width="3" height="5" fill="#404040"/>
<rect x="807" y="143" width="1" height="1" fill="#05afdb"/>
<rect x="807" y="160" width="1" height="3" fill="#05afdb"/>
<rect x="806" y="144" width="3" height="16" fill="#05afdb"/>
<rect x="807" y="145" width="1" height="14" fill="#fff"/>
<rect x="811" y="125" width="1" height="12" fill="#05afdb"/>
<rect x="811" y="145" width="1" height="13" fill="#05afdb"/>
<rect x="810" y="137" width="3" height="8" fill="#05afdb"/>
<rect x="811" y="138" width="1" height="6" fill="#fff"/>
<rect x="815" y="126" width="1" height="6" fill="#05afdb"/>
<rect x="815" y="138" width="1" height="5" fill="#05afdb"/>
<rect x="814" y="132" width="3" height="6" fill="#05afdb"/>
<rect x="815" y="133" width="1" height="4" fill="#fff"/>
<rect x="819" y="126" width="1" height="3" fill="#05afdb"/>
<rect x="819" y="133" width="1" height="5" fill="#05afdb"/>
<rect x="818" y="129" width="3" height="4" fill="#05afdb"/>
<rect x="819" y="130" width="1" height="2" fill="#fff"/>
<rect x="823" y="118" width="1" height="1" fill="#05afdb"/>
<rect x="823" y="128" width="1" height="1" fill="#05afdb"/>
<rect x="822" y="119" width="3" height="9" fill="#05afdb"/>
<rect x="823" y="120" width="1" height="7" fill="#fff"/>
<rect x="827" y="111" width="1" height="2" fill="#05afdb"/>
<rect x="827" y="121" width="1" height="3" fill="#05afdb"/>
<rect x="826" y="113" width="3" height="8" fill="#05afdb"/>
<rect x="827" y="114" width="1" height="6" fill="#fff"/>
<rect x="831" y="110" width="1" height="2" fill="#05afdb"/>
<rect x="831" y="115" width="1" height="1" fill="#05afdb"/>
<rect x="830" y="112" width="3" height="3" fill="#05afdb"/>
<rect x="831" y="113" width="1" height="1" fill="#fff"/>
<rect x="835" y="107" width="1" height="14" fill="#404040"/>
<rect x="834" y="112" width="3" height="9" fill="#404040"/>
<rect x="839" y="110" width="1" height="4" fill="#05afdb"/>
<rect x="839" y="121" width="1" height="17" fill="#05afdb"/>
<rect x="838" y="114" width="3" height="7" fill="#05afdb"/>
<rect x="839" y="115" width="1" height="5" fill="#fff"/>
<rect x="843" y="108" width="1" height="23" fill="#404040"/>
<rect x="842" y="114" width="3" height="10" fill="#404040"/>
<rect x="847" y="120" width="1" height="18" fill="#404040"/>
<rect x="846" y="122" width="3" height="8" fill="#404040"/>
<rect x="851" y="123" width="1" height="12" fill="#404040"/>
<rect x="850" y="128" width="3" height="5" fill="#404040"/>
<rect x="855" y="122" width="1" height="1" fill="#05afdb"/>
<rect x="855" y="133" width="1" height="1" fill="#05afdb"/>
<rect x="854" y="123" width="3" height="10" fill="#05afdb"/>
<rect x="855" y="124" width="1" height="8" fill="#fff"/>
<rect x="859" y="122" width="1" height="10" fill="#404040"/>
<rect x="858" y="123" width="3" height="6" fill="#404040"/>
<rect x="863" y="118" width="1" height="37" fill="#404040"/>
<rect x="862" y="127" width="3" height="16" fill="#404040"/>
<rect x="867" y="112" width="1" height="2" fill="#05afdb"/>
<rect x="867" y="143" width="1" height="14" fill="#05afdb"/>
<rect x="866" y="114" width="3" height="29" fill="#05afdb"/>
<rect x="867" y="115" width="1" height="27" fill="#fff"/>
<rect x="871" y="108" width="1" height="3" fill="#05afdb"/>
<rect x="871" y="116" width="1" height="2" fill="#05afdb"/>
<rect x="870" y="111" width="3" height="5" fill="#05afdb"/>
<rect x="871" y="112" width="1" height="3" fill="#fff"/>
<rect x="875" y="109" width="1" height="3" fill="#05afdb"/>
<rect x="875" y="114" width="1" height="3" fill="#05afdb"/>
<rect x="874" y="112" width="3" height="2" fill="#05afdb"/>
<rect x="879" y="103" width="1" height="2" fill="#05afdb"/>
<rect x="878" y="105" width="3" height="8" fill="#05afdb"/>
<rect x="879" y="106" width="1" height="6" fill="#fff"/>
<rect x="883" y="104" width="1" height="7" fill="#404040"/>
<rect x="882" y="105" width="3" height="3" fill="#404040"/>
<rect x="887" y="103" width="1" height="18" fill="#404040"/>
<rect x="886" y="107" width="3" height="6" fill="#404040"/>
<rect x="891" y="95" width="1" height="7" fill="#05afdb"/>
<rect x="891" y="113" width="1" height="5" fill="#05afdb"/>
<rect x="890" y="102" width="3" height="11" fill="#05afdb"/>
<rect x="891" y="103" width="1" height="9" fill="#fff"/>
<rect x="895" y="98" width="1" height="1" fill="#05afdb"/>
<rect x="895" y="102" width="1" height="3" fill="#05afdb"/>
<rect x="894" y="99" width="3" height="3" fill="#05afdb"/>
<rect x="895" y="100" width="1" height="1" fill="#fff"/>
<rect x="899" y="96" width="1" height="2" fill="#05afdb"/>
<rect x="899" y="100" width="1" height="2" fill="#05afdb"/>
<rect x="898" y="98" width="3" height="2" fill="#05afdb"/>
<rect x="903" y="98" width="1" height="8" fill="#404040"/>
<rect x="902" y="98" width="3" height="6" fill="#404040"/>
<rect x="907" y="92" width="1" height="3" fill="#05afdb"/>
<rect x="906" y="95" width="3" height="9" fill="#05afdb"/>
<rect x="907" y="96" width="1" height="7" fill="#fff"/>
<rect x="911" y="84" width="1" height="1" fill="#05afdb"/>
<rect x="911" y="96" width="1" height="8" fill="#05afdb"/>
<rect x="910" y="85" width="3" height="11" fill="#05afdb"/>
<rect x="911" y="86" width="1" height="9" fill="#fff"/>
<rect x="915" y="81" width="1" height="3" fill="#05afdb"/>
<rect x="915" y="87" width="1" height="2" fill="#05afdb"/>
<rect x="914" y="84" width="3" height="3" fill="#05afdb"/>
<rect x="915" y="85" width="1" height="1" fill="#fff"/>
<rect x="919" y="79" width="1" height="3" fill="#05afdb"/>
<rect x="919" y="85" width="1" height="4" fill="#05afdb"/>
<rect x="918" y="82" width="3" height="3" fill="#05afdb"/>
<rect x="919" y="83" width="1" height="1" fill="#fff"/>
<rect x="923" y="79" width="1" height="6" fill="#404040"/>
<rect x="922" y="82" width="3" height="2" fill="#404040"/>
<rect x="927" y="81" width="1" height="6" fill="#404040"/>
<rect x="926" y="81" width="3" height="5" fill="#404040"/>
<rect x="931" y="83" width="1" height="5" fill="#404040"/>
<rect x="930" y="85" width="3" height="2" fill="#404040"/>
<rect x="935" y="84" width="1" height="22" fill="#404040"/>
<rect x="934" y="85" width="3" height="19" fill="#404040"/>
<rect x="939" y="95" width="1" height="5" fill="#05afdb"/>
<rect x="939" y="102" width="1" height="8" fill="#05afdb"/>
<rect x="938" y="100" width="3" height="2" fill="#05afdb"/>
<rect x="942" y="98" width="3" height="6" fill="#05afdb"/>
<rect x="943" y="99" width="1" height="4" fill="#fff"/>
<rect x="947" y="99" width="1" height="10" fill="#404040"/>
<rect x="946" y="99" width="3" height="10" fill="#404040"/>
<rect x="951" y="107" width="1" height="14" fill="#404040"/>
<rect x="950" y="108" width="3" height="3" fill="#404040"/>
<rect x="955" y="108" width="1" height="1" fill="#05afdb"/>
<rect x="955" y="112" width="1" height="1" fill="#05afdb"/>
<rect x="954" y="109" width="3" height="3" fill="#05afdb"/>
<rect x="955" y="110" width="1" height="1" fill="#fff"/>
<rect x="959" y="93" width="1" height="1" fill="#05afdb"/>
<rect x="958" y="94" width="3" height="17" fill="#05afdb"/>
<rect x="959" y="95" width="1" height="15" fill="#fff"/>
<rect x="963" y="88" width="1" height="18" fill="#404040"/>
<rect x="962" y="95" width="3" height="2" fill="#404040"/>
<rect x="967" y="85" width="1" height="4" fill="#05afdb"/>
<rect x="967" y="96" width="1" height="5" fill="#05afdb"/>
<rect x="966" y="89" width="3" height="7" fill="#05afdb"/>
<rect x="967" y="90" width="1" height="5" fill="#fff"/>
<rect x="971" y="88" width="1" height="6" fill="#404040"/>
<rect x="970" y="89" width="3" height="4" fill="#404040"/>
<rect x="975" y="91" width="1" height="9" fill="#404040"/>
<rect x="974" y="92" width="3" height="5" fill="#404040"/>
<rect x="979" y="91" width="1" height="1" fill="#05afdb"/>
<rect x="978" y="92" width="3" height="5" fill="#05afdb"/>
<rect x="979" y="93" width="1" height="3" fill="#fff"/>
<rect x="983" y="85" width="1" height="1" fill="#05afdb"/>
<rect x="983" y="93" width="1" height="1" fill="#05afdb"/>
<rect x="982" y="86" width="3" height="7" fill="#05afdb"/>
<rect x="983" y="87" width="1" height="5" fill="#fff"/>
<rect x="987" y="83" width="1" height="38" fill="#404040"/>
<rect x="986" y="87" width="3" height="26" fill="#404040"/>
<rect x="991" y="99" width="1" height="8" fill="#05afdb"/>
<rect x="991" y="113" width="1" height="9" fill="#05afdb"/>
<rect x="990" y="107" width="3" height="6" fill="#05afdb"/>
<rect x="991" y="108" width="1" height="4" fill="#fff"/>
<rect x="995" y="106" width="1" height="10" fill="#404040"/>
<rect x="994" y="107" width="3" height="7" fill="#404040"/>
<rect x="999" y="108" width="1" height="1" fill="#05afdb"/>
<rect x="999" y="114" width="1" height="2" fill="#05afdb"/>
<rect x="998" y="109" width="3" height="5" fill="#05afdb"/>
<rect x="999" y="110" width="1" height="3" fill="#fff"/>
<rect x="1003" y="108" width="1" height="7" fill="#404040"/>
<rect x="1002" y="108" width="3" height="6" fill="#404040"/>
<rect x="1007" y="110" width="1" height="18" fill="#404040"/>
<rect x="1006" y="112" width="3" height="5" fill="#404040"/>
<rect x="1011" y="92" width="1" height="27" fill="#404040"/>
<rect x="1010" y="115" width="3" height="4" fill="#404040"/>
<rect x="1015" y="113" width="1" height="4" fill="#05afdb"/>
<rect x="1015" y="119" width="1" height="12" fill="#05afdb"/>
<rect x="1014" y="117" width="3" height="2" fill="#05afdb"/>
<rect x="1019" y="114" width="1" height="10" fill="#404040"/>
<rect x="1018" y="118" width="3" height="5" fill="#404040"/>
<rect x="1023" y="119" width="1" height="1" fill="#05afdb"/>
<rect x="1023" y="123" width="1" height="1" fill="#05afdb"/>
<rect x="1022" y="120" width="3" height="3" fill="#05afdb"/>
<rect x="1023" y="121" width="1" height="1" fill="#fff"/>
<rect x="1027" y="119" width="1" height="8" fill="#404040"/>
<rect x="1026" y="120" width="3" height="5" fill="#404040"/>
<rect x="1031" y="113" width="1" height="2" fill="#05afdb"/>
<rect x="1031" y="125" width="1" height="1" fill="#05afdb"/>
<rect x="1030" y="115" width="3" height="10" fill="#05afdb"/>
<rect x="1031" y="116" width="1" height="8" fill="#fff"/>
<rect x="1035" y="116" width="1" height="18" fill="#05afdb"/>
<rect x="1034" y="108" width="3" height="8" fill="#05afdb"/>
<rect x="1035" y="109" width="1" height="6" fill="#fff"/>
<rect x="1039" y="102" width="1" height="1" fill="#05afdb"/>
<rect x="1039" y="109" width="1" height="5" fill="#05afdb"/>
<rect x="1038" y="103" width="3" height="6" fill="#05afdb"/>
<rect x="1039" y="104" width="1" height="4" fill="#fff"/>
<rect x="1043" y="99" width="1" height="7" fill="#404040"/>
<rect x="1042" y="103" width="3" height="3" fill="#404040"/>
<rect x="1047" y="103" width="1" height="5" fill="#404040"/>
<rect x="1046" y="104" width="3" height="3" fill="#404040"/>
<rect x="1051" y="103" width="1" height="1" fill="#05afdb"/>
<rect x="1050" y="104" width="3" height="2" fill="#05afdb"/>
</g>
<path d="M1057.4,105.1 C1090.9,145.4 1104.2,79.2 1115,17" fill="none" stroke="#05afdb" stroke-width="3.3"/>
<path d="M1117.6,5.6 L1107.8,19.6 L1122.6,21.6 Z" fill="#05afdb"/>
<text x="1137.2" y="19.0" font-size="14" font-weight="bold" fill="#05afdb" textLength="40.6" lengthAdjust="spacingAndGlyphs">15500</text>
<text x="1027.2" y="75.8" font-size="14" font-weight="bold" fill="#05afdb" textLength="60.6" lengthAdjust="spacingAndGlyphs">15183.30</text>
<text x="1143.0" y="122.0" font-size="14" font-weight="bold" fill="#05afdb" textLength="40.5" lengthAdjust="spacingAndGlyphs">14985</text>
<path d="M1081,181.5 L1093,181.5 C1102,196 1112,229 1123,228.5 C1136,228 1150,178 1165,178 C1188.2,181.4 1199.3,245.2 1220.5,297" fill="none" stroke="#3c3c3c" stroke-width="3"/>
<path d="M1224.4,310.8 L1213.4,299.8 L1227.2,294.6 Z" fill="#3c3c3c"/>
<text x="1146.2" y="152.0" font-size="14" font-weight="bold" fill="#333" textLength="40.3" lengthAdjust="spacingAndGlyphs">14860</text>
<text x="1196.0" y="190.0" font-size="14" font-weight="bold" fill="#333" textLength="40.3" lengthAdjust="spacingAndGlyphs">14780</text>
<text x="1215.3" y="226.0" font-size="14" font-weight="bold" fill="#333" textLength="40.3" lengthAdjust="spacingAndGlyphs">14550</text>
<text x="1228.7" y="269.3" font-size="14" font-weight="bold" fill="#333" textLength="40.3" lengthAdjust="spacingAndGlyphs">14450</text>
<text x="1198.3" y="327.0" font-size="14" font-weight="bold" fill="#333" textLength="40.3" lengthAdjust="spacingAndGlyphs">14210</text>
<text x="456.2" y="211.3" font-size="14" font-weight="bold" fill="#e8141e" textLength="53.0" lengthAdjust="spacingAndGlyphs">50-EMA</text>
<text x="386.6" y="277.2" font-size="14" font-weight="bold" fill="#22a040" textLength="60.4" lengthAdjust="spacingAndGlyphs">100-EMA</text>
<text x="510.3" y="293.0" font-size="14" font-weight="bold" fill="#111" textLength="60.5" lengthAdjust="spacingAndGlyphs">200-EMA</text>
<g shape-rendering="crispEdges" fill="none" stroke="#404040" stroke-width="1">
<rect x="2.5" y="2.5" width="1602" height="465"/>
<rect x="2.5" y="469.5" width="1602" height="100"/>
<rect x="2.5" y="571.5" width="1602" height="88"/>
</g>
<g shape-rendering="crispEdges" fill="#000"><rect x="3" y="124" width="5" height="1"/><rect x="3" y="124" width="1" height="4"/><rect x="1599" y="124" width="5" height="1"/><rect x="1599" y="124" width="1" height="4"/></g>
<g shape-rendering="crispEdges">
<rect x="1605" y="35" width="2" height="1" fill="#404040"/>
<rect x="1605" y="69" width="2" height="1" fill="#404040"/>
<rect x="1605" y="101" width="2" height="1" fill="#404040"/>
<rect x="1605" y="134" width="2" height="1" fill="#404040"/>
<rect x="1605" y="168" width="2" height="1" fill="#404040"/>
<rect x="1605" y="200" width="2" height="1" fill="#404040"/>
<rect x="1605" y="234" width="2" height="1" fill="#404040"/>
<rect x="1605" y="266" width="2" height="1" fill="#404040"/>
<rect x="1605" y="299" width="2" height="1" fill="#404040"/>
<rect x="1605" y="333" width="2" height="1" fill="#404040"/>
<rect x="1605" y="366" width="2" height="1" fill="#404040"/>
<rect x="1605" y="399" width="2" height="1" fill="#404040"/>
<rect x="1605" y="432" width="2" height="1" fill="#404040"/>
<rect x="1605" y="464" width="2" height="1" fill="#404040"/>
</g>
<text x="1610.5" y="39.0" font-size="9.8" font-weight="normal" fill="#1e1e1e" textLength="37.2" lengthAdjust="spacingAndGlyphs">15368.55</text>
<text x="1610.5" y="73.0" font-size="9.8" font-weight="normal" fill="#1e1e1e" textLength="37.2" lengthAdjust="spacingAndGlyphs">15227.45</text>
<text x="1610.5" y="105.0" font-size="9.8" font-weight="normal" fill="#1e1e1e" textLength="37.2" lengthAdjust="spacingAndGlyphs">15090.35</text>
<text x="1610.5" y="138.0" font-size="9.8" font-weight="normal" fill="#1e1e1e" textLength="37.2" lengthAdjust="spacingAndGlyphs">14953.55</text>
<text x="1610.5" y="172.0" font-size="9.8" font-weight="normal" fill="#1e1e1e" textLength="37.2" lengthAdjust="spacingAndGlyphs">14812.45</text>
<text x="1610.5" y="204.0" font-size="9.8" font-weight="normal" fill="#1e1e1e" textLength="37.2" lengthAdjust="spacingAndGlyphs">14675.50</text>
<text x="1610.5" y="238.0" font-size="9.8" font-weight="normal" fill="#1e1e1e" textLength="37.2" lengthAdjust="spacingAndGlyphs">14534.40</text>
<text x="1610.5" y="270.0" font-size="9.8" font-weight="normal" fill="#1e1e1e" textLength="37.2" lengthAdjust="spacingAndGlyphs">14397.45</text>
<text x="1610.5" y="303.0" font-size="9.8" font-weight="normal" fill="#1e1e1e" textLength="37.2" lengthAdjust="spacingAndGlyphs">14260.50</text>
<text x="1610.5" y="337.0" font-size="9.8" font-weight="normal" fill="#1e1e1e" textLength="37.2" lengthAdjust="spacingAndGlyphs">14119.40</text>
<text x="1610.5" y="370.0" font-size="9.8" font-weight="normal" fill="#1e1e1e" textLength="37.2" lengthAdjust="spacingAndGlyphs">13982.45</text>
<text x="1610.5" y="403.0" font-size="9.8" font-weight="normal" fill="#1e1e1e" textLength="37.2" lengthAdjust="spacingAndGlyphs">13841.35</text>
<text x="1610.5" y="436.0" font-size="9.8" font-weight="normal" fill="#1e1e1e" textLength="37.2" lengthAdjust="spacingAndGlyphs">13704.40</text>
<text x="1610.5" y="468.0" font-size="9.8" font-weight="normal" fill="#1e1e1e" textLength="37.2" lengthAdjust="spacingAndGlyphs">13567.45</text>
<rect x="1606" y="-2" width="46" height="11" fill="#000" shape-rendering="crispEdges"/>
<text x="1610.5" y="6.5" font-size="9.8" font-weight="normal" fill="#fff" textLength="37.2" lengthAdjust="spacingAndGlyphs">15500.00</text>
<rect x="1606" y="73" width="46" height="11" fill="#000" shape-rendering="crispEdges"/>
<text x="1610.5" y="81.5" font-size="9.8" font-weight="normal" fill="#fff" textLength="37.2" lengthAdjust="spacingAndGlyphs">15183.30</text>
<rect x="1606" y="99" width="46" height="11" fill="#404040" shape-rendering="crispEdges"/>
<text x="1610.5" y="107.5" font-size="9.8" font-weight="normal" fill="#fff" textLength="37.2" lengthAdjust="spacingAndGlyphs">15076.60</text>
<rect x="1606" y="120" width="46" height="11" fill="#000" shape-rendering="crispEdges"/>
<text x="1610.5" y="128.5" font-size="9.8" font-weight="normal" fill="#fff" textLength="37.2" lengthAdjust="spacingAndGlyphs">14985.00</text>
<rect x="1606" y="150" width="46" height="11" fill="#000" shape-rendering="crispEdges"/>
<text x="1610.5" y="158.5" font-size="9.8" font-weight="normal" fill="#fff" textLength="37.2" lengthAdjust="spacingAndGlyphs">14860.00</text>
<rect x="1606" y="169" width="46" height="11" fill="#000" shape-rendering="crispEdges"/>
<text x="1610.5" y="177.5" font-size="9.8" font-weight="normal" fill="#fff" textLength="37.2" lengthAdjust="spacingAndGlyphs">14780.00</text>
<rect x="1606" y="224" width="46" height="11" fill="#000" shape-rendering="crispEdges"/>
<text x="1610.5" y="232.5" font-size="9.8" font-weight="normal" fill="#fff" textLength="37.2" lengthAdjust="spacingAndGlyphs">14550.00</text>
<rect x="1606" y="248" width="46" height="11" fill="#000" shape-rendering="crispEdges"/>
<text x="1610.5" y="256.5" font-size="9.8" font-weight="normal" fill="#fff" textLength="37.2" lengthAdjust="spacingAndGlyphs">14450.00</text>
<rect x="1606" y="305" width="46" height="11" fill="#000" shape-rendering="crispEdges"/>
<text x="1610.5" y="313.5" font-size="9.8" font-weight="normal" fill="#fff" textLength="37.2" lengthAdjust="spacingAndGlyphs">14210.00</text>
<rect x="1606" y="355" width="46" height="11" fill="#000" shape-rendering="crispEdges"/>
<text x="1610.5" y="363.5" font-size="9.8" font-weight="normal" fill="#fff" textLength="37.2" lengthAdjust="spacingAndGlyphs">14000.00</text>
<rect x="1606" y="390" width="46" height="11" fill="#000" shape-rendering="crispEdges"/>
<text x="1610.5" y="398.5" font-size="9.8" font-weight="normal" fill="#fff" textLength="37.2" lengthAdjust="spacingAndGlyphs">13850.00</text>
<path d="M6,9 L13,9 L9.5,13 Z" fill="#333"/>
<text x="18.8" y="14.0" font-size="9.8" font-weight="normal" fill="#1e1e1e" textLength="77.0" lengthAdjust="spacingAndGlyphs">.USTECHCash,H4</text>
<text x="102.5" y="14.0" font-size="9.8" font-weight="normal" fill="#1e1e1e" textLength="160.0" lengthAdjust="spacingAndGlyphs">15075.90 15083.30 15074.30 15076.60</text>
<defs><linearGradient id="lg" x1="0" y1="0" x2="0" y2="1"><stop offset="0" stop-color="#30343b"/><stop offset="1" stop-color="#4a5058"/></linearGradient></defs>
<g fill="url(#lg)">
<path d="M19.2,21.1 H26.1 V46 C26.1,52 22,55.8 16.5,55.8 H11.1 V49.6 H15.5 C18,49.6 19.2,48 19.2,45.5 Z"/>
<path d="M31.6,21.1 H54.8 V27.8 H38.9 V35 H50.3 V41.6 H38.9 V55.8 H31.6 Z"/>
<rect x="59.6" y="21.1" width="1.6" height="34.7"/>
<rect x="57.9" y="33" width="5" height="11"/>
<path d="M63.3,21.1 H71.4 C80.5,21.1 85.9,27.5 85.9,35.5 V41.5 C85.9,49.5 80.5,55.8 71.4,55.8 H63.3 V48.9 H71 C75.8,48.9 78.5,46 78.5,41.5 V35.5 C78.5,31 75.8,27.8 71,27.8 H63.3 Z"/>
</g>
<text x="7.3" y="482.0" font-size="9.8" font-weight="normal" fill="#1e1e1e" textLength="67.5" lengthAdjust="spacingAndGlyphs">RSI(14) 53.1056</text>
<g shape-rendering="crispEdges">
<line x1="4" y1="500.5" x2="1604" y2="500.5" stroke="#b4b4b4" stroke-width="1" stroke-dasharray="3 3"/>
<line x1="4" y1="519.5" x2="1604" y2="519.5" stroke="#b4b4b4" stroke-width="1" stroke-dasharray="3 3"/>
<line x1="4" y1="539.5" x2="1604" y2="539.5" stroke="#b4b4b4" stroke-width="1" stroke-dasharray="3 3"/>
</g>
<polyline points="2.4,513.2 7.3,514.4 9.8,513.6 15.5,513.6 19.2,510.5 20.4,513.2 23.3,529.1 30.2,530.0 39.2,530.4 43.2,507.5 48.9,502.6 53.8,501.0 62.0,501.3 64.4,505.1 67.7,516.0 71.8,520.2 78.3,520.6 83.5,523.0 91.4,513.2 94.6,514.4 99.5,511.6 106.9,510.5 111.7,512.1 119.9,507.5 124.0,499.7 128.9,497.7 135.4,497.7 139.5,501.3 143.6,501.3 147.6,500.3 150.9,501.3 155.0,499.4 159.9,499.4 167.2,491.5 170.5,495.8 179.4,499.4 186.8,496.4 191.7,506.2 194.9,505.1 199.3,510.0 203.1,506.7 208.0,509.2 215.3,506.7 222.7,494.8 227.6,497.4 234.9,499.7 239.8,496.9 244.7,495.3 251.2,492.0 258.6,492.5 263.5,501.0 267.5,498.5 271.6,504.3 275.3,502.3 279.4,502.6 282.7,504.3 287.2,514.0 291.7,510.0 295.7,509.2 299.0,510.0 303.9,514.0 308.0,513.2 310.4,508.3 318.6,495.3 321.8,494.5 329.2,494.5 335.7,498.5 343.9,498.5 347.1,500.2 351.2,499.4 356.1,505.1 365.9,500.2 377.3,494.1 380.6,493.2 383.5,494.5 387.4,489.6 391.2,505.1 395.2,501.0 400.1,503.0 407.5,512.4 410.7,527.1 415.6,533.3 419.7,519.3 427.1,522.2 431.1,520.2 435.2,520.2 438.5,513.2 443.9,508.3 447.4,510.5 451.5,508.3 455.6,511.6 462.1,509.5 470.3,507.5 474.4,505.6 480.1,505.1 484.2,507.5 491.5,499.4 494.8,506.7 499.7,512.4 503.7,512.4 507.8,514.0 515.6,502.6 519.2,510.0 523.3,514.0 527.4,514.0 531.5,512.1 535.5,514.0 539.3,527.9 548.2,528.4 551.5,530.4 559.7,522.5 567.0,532.0 571.9,535.3 576.0,535.6 579.7,537.2 583.3,534.4 586.6,536.1 591.5,543.4 595.5,545.4 599.6,530.7 605.3,527.4 611.0,528.4 615.1,524.6 620.0,515.4 627.4,520.2 631.4,517.6 635.5,517.3 642.0,513.2 647.7,508.3 655.1,505.1 659.2,507.2 664.1,502.6 668.1,501.8 671.4,498.5 676.3,499.4 682.8,497.4 688.5,496.1 691.8,491.2 699.1,492.5 703.2,496.1 707.3,495.3 711.4,502.3 718.7,498.5 723.6,499.0 728.5,501.3 731.8,502.3 735.3,501.3 739.6,528.4 747.3,527.4 751.3,524.6 755.4,525.5 763.6,513.7 767.6,517.3 775.0,521.4 779.9,517.6 784.0,520.2 788.0,511.6 791.3,513.2 795.4,525.5 799.5,530.0 803.5,531.2 808.1,524.6 814.6,520.2 819.5,518.9 826.0,513.2 831.7,513.7 835.8,516.5 839.1,514.4 847.2,521.4 851.0,522.2 855.9,518.1 859.5,520.6 863.5,527.4 867.6,514.9 875.0,514.0 879.9,511.1 887.2,515.4 892.9,510.5 900.2,510.0 903.5,512.1 907.6,509.5 913.3,504.3 923.9,504.3 928.0,506.2 932.1,506.7 935.3,518.9 939.4,519.3 943.5,516.5 947.6,523.0 951.6,524.6 955.7,523.0 959.8,514.4 963.9,514.0 968.0,511.1 975.3,515.4 983.4,510.5 987.5,526.3 991.6,524.2 995.7,526.3 999.8,524.2 1007.9,528.4 1011.2,529.5 1016.1,529.5 1020.1,531.7 1023.4,530.0 1027.5,532.0 1031.6,524.6 1039.7,515.4 1043.0,516.0 1047.1,517.3 1051.1,516.5" fill="none" stroke="#05afdb" stroke-width="1" shape-rendering="crispEdges"/>
<text x="1608.5" y="480.0" font-size="9.8" font-weight="normal" fill="#1e1e1e" textLength="15.0" lengthAdjust="spacingAndGlyphs">100</text>
<text x="1608.5" y="504.0" font-size="9.8" font-weight="normal" fill="#1e1e1e" textLength="10.0" lengthAdjust="spacingAndGlyphs">70</text>
<rect x="1605" y="500" width="2" height="1" fill="#404040" shape-rendering="crispEdges"/>
<text x="1608.5" y="523.0" font-size="9.8" font-weight="normal" fill="#1e1e1e" textLength="10.0" lengthAdjust="spacingAndGlyphs">50</text>
<rect x="1605" y="519" width="2" height="1" fill="#404040" shape-rendering="crispEdges"/>
<text x="1608.5" y="543.0" font-size="9.8" font-weight="normal" fill="#1e1e1e" textLength="10.0" lengthAdjust="spacingAndGlyphs">30</text>
<rect x="1605" y="539" width="2" height="1" fill="#404040" shape-rendering="crispEdges"/>
<text x="1608.5" y="567.0" font-size="9.8" font-weight="normal" fill="#1e1e1e" textLength="5.0" lengthAdjust="spacingAndGlyphs">0</text>
<text x="7.3" y="583.0" font-size="9.8" font-weight="normal" fill="#1e1e1e" textLength="128.0" lengthAdjust="spacingAndGlyphs">MACD(12,26,9) -3.925 -14.190</text>
<g shape-rendering="crispEdges" fill="#05afdb">
<rect x="3" y="594" width="1" height="27"/>
<rect x="7" y="597" width="1" height="24"/>
<rect x="11" y="599" width="1" height="22"/>
<rect x="15" y="601" width="1" height="20"/>
<rect x="19" y="602" width="1" height="19"/>
<rect x="23" y="608" width="1" height="13"/>
<rect x="27" y="613" width="1" height="8"/>
<rect x="31" y="618" width="1" height="3"/>
<rect x="35" y="620" width="1" height="1"/>
<rect x="39" y="620" width="1" height="3"/>
<rect x="43" y="619" width="1" height="2"/>
<rect x="47" y="613" width="1" height="8"/>
<rect x="51" y="607" width="1" height="14"/>
<rect x="55" y="602" width="1" height="19"/>
<rect x="59" y="599" width="1" height="22"/>
<rect x="63" y="597" width="1" height="24"/>
<rect x="67" y="600" width="1" height="21"/>
<rect x="71" y="603" width="1" height="18"/>
<rect x="75" y="606" width="1" height="15"/>
<rect x="79" y="609" width="1" height="12"/>
<rect x="83" y="612" width="1" height="9"/>
<rect x="87" y="613" width="1" height="8"/>
<rect x="91" y="612" width="1" height="9"/>
<rect x="95" y="612" width="1" height="9"/>
<rect x="99" y="610" width="1" height="11"/>
<rect x="103" y="609" width="1" height="12"/>
<rect x="107" y="610" width="1" height="11"/>
<rect x="111" y="609" width="1" height="12"/>
<rect x="115" y="608" width="1" height="13"/>
<rect x="119" y="607" width="1" height="14"/>
<rect x="123" y="603" width="1" height="18"/>
<rect x="127" y="600" width="1" height="21"/>
<rect x="131" y="596" width="1" height="25"/>
<rect x="135" y="594" width="1" height="27"/>
<rect x="139" y="593" width="1" height="28"/>
<rect x="143" y="593" width="1" height="28"/>
<rect x="147" y="592" width="1" height="29"/>
<rect x="151" y="592" width="1" height="29"/>
<rect x="155" y="592" width="1" height="29"/>
<rect x="159" y="591" width="1" height="30"/>
<rect x="163" y="590" width="1" height="31"/>
<rect x="167" y="589" width="1" height="32"/>
<rect x="171" y="588" width="1" height="33"/>
<rect x="175" y="588" width="1" height="33"/>
<rect x="179" y="590" width="1" height="31"/>
<rect x="183" y="589" width="1" height="32"/>
<rect x="187" y="590" width="1" height="31"/>
<rect x="191" y="592" width="1" height="29"/>
<rect x="195" y="593" width="1" height="28"/>
<rect x="199" y="596" width="1" height="25"/>
<rect x="203" y="597" width="1" height="24"/>
<rect x="207" y="598" width="1" height="23"/>
<rect x="211" y="598" width="1" height="23"/>
<rect x="215" y="600" width="1" height="21"/>
<rect x="219" y="596" width="1" height="25"/>
<rect x="223" y="594" width="1" height="27"/>
<rect x="227" y="592" width="1" height="29"/>
<rect x="231" y="591" width="1" height="30"/>
<rect x="235" y="591" width="1" height="30"/>
<rect x="239" y="590" width="1" height="31"/>
<rect x="243" y="590" width="1" height="31"/>
<rect x="247" y="589" width="1" height="32"/>
<rect x="251" y="587" width="1" height="34"/>
<rect x="255" y="586" width="1" height="35"/>
<rect x="259" y="586" width="1" height="35"/>
<rect x="263" y="587" width="1" height="34"/>
<rect x="267" y="587" width="1" height="34"/>
<rect x="271" y="589" width="1" height="32"/>
<rect x="275" y="590" width="1" height="31"/>
<rect x="279" y="591" width="1" height="30"/>
<rect x="283" y="593" width="1" height="28"/>
<rect x="287" y="596" width="1" height="25"/>
<rect x="291" y="598" width="1" height="23"/>
<rect x="295" y="599" width="1" height="22"/>
<rect x="299" y="601" width="1" height="20"/>
<rect x="303" y="603" width="1" height="18"/>
<rect x="307" y="605" width="1" height="16"/>
<rect x="311" y="604" width="1" height="17"/>
<rect x="315" y="602" width="1" height="19"/>
<rect x="319" y="599" width="1" height="22"/>
<rect x="323" y="595" width="1" height="26"/>
<rect x="327" y="593" width="1" height="28"/>
<rect x="331" y="592" width="1" height="29"/>
<rect x="335" y="591" width="1" height="30"/>
<rect x="339" y="591" width="1" height="30"/>
<rect x="343" y="592" width="1" height="29"/>
<rect x="347" y="592" width="1" height="29"/>
<rect x="351" y="592" width="1" height="29"/>
<rect x="355" y="594" width="1" height="27"/>
<rect x="359" y="596" width="1" height="25"/>
<rect x="363" y="596" width="1" height="25"/>
<rect x="367" y="596" width="1" height="25"/>
<rect x="371" y="596" width="1" height="25"/>
<rect x="375" y="595" width="1" height="26"/>
<rect x="379" y="594" width="1" height="27"/>
<rect x="383" y="594" width="1" height="27"/>
<rect x="387" y="592" width="1" height="29"/>
<rect x="391" y="593" width="1" height="28"/>
<rect x="395" y="592" width="1" height="29"/>
<rect x="399" y="594" width="1" height="27"/>
<rect x="403" y="594" width="1" height="27"/>
<rect x="407" y="597" width="1" height="24"/>
<rect x="411" y="603" width="1" height="18"/>
<rect x="415" y="611" width="1" height="10"/>
<rect x="419" y="612" width="1" height="9"/>
<rect x="423" y="614" width="1" height="7"/>
<rect x="427" y="616" width="1" height="5"/>
<rect x="431" y="617" width="1" height="4"/>
<rect x="435" y="618" width="1" height="3"/>
<rect x="439" y="615" width="1" height="6"/>
<rect x="443" y="612" width="1" height="9"/>
<rect x="447" y="610" width="1" height="11"/>
<rect x="451" y="608" width="1" height="13"/>
<rect x="455" y="607" width="1" height="14"/>
<rect x="459" y="606" width="1" height="15"/>
<rect x="463" y="605" width="1" height="16"/>
<rect x="467" y="604" width="1" height="17"/>
<rect x="471" y="603" width="1" height="18"/>
<rect x="475" y="602" width="1" height="19"/>
<rect x="479" y="601" width="1" height="20"/>
<rect x="483" y="601" width="1" height="20"/>
<rect x="487" y="599" width="1" height="22"/>
<rect x="491" y="596" width="1" height="25"/>
<rect x="495" y="597" width="1" height="24"/>
<rect x="499" y="598" width="1" height="23"/>
<rect x="503" y="599" width="1" height="22"/>
<rect x="507" y="602" width="1" height="19"/>
<rect x="511" y="601" width="1" height="20"/>
<rect x="515" y="598" width="1" height="23"/>
<rect x="519" y="598" width="1" height="23"/>
<rect x="523" y="601" width="1" height="20"/>
<rect x="527" y="602" width="1" height="19"/>
<rect x="531" y="603" width="1" height="18"/>
<rect x="535" y="604" width="1" height="17"/>
<rect x="539" y="610" width="1" height="11"/>
<rect x="543" y="614" width="1" height="7"/>
<rect x="547" y="618" width="1" height="3"/>
<rect x="551" y="620" width="1" height="1"/>
<rect x="555" y="620" width="1" height="3"/>
<rect x="559" y="620" width="1" height="3"/>
<rect x="563" y="620" width="1" height="7"/>
<rect x="567" y="620" width="1" height="10"/>
<rect x="571" y="620" width="1" height="14"/>
<rect x="575" y="620" width="1" height="18"/>
<rect x="579" y="620" width="1" height="21"/>
<rect x="583" y="620" width="1" height="23"/>
<rect x="587" y="620" width="1" height="25"/>
<rect x="591" y="620" width="1" height="31"/>
<rect x="595" y="620" width="1" height="36"/>
<rect x="599" y="620" width="1" height="35"/>
<rect x="603" y="620" width="1" height="33"/>
<rect x="607" y="620" width="1" height="31"/>
<rect x="611" y="620" width="1" height="30"/>
<rect x="615" y="620" width="1" height="27"/>
<rect x="619" y="620" width="1" height="21"/>
<rect x="623" y="620" width="1" height="16"/>
<rect x="627" y="620" width="1" height="14"/>
<rect x="631" y="620" width="1" height="11"/>
<rect x="635" y="620" width="1" height="8"/>
<rect x="639" y="620" width="1" height="5"/>
<rect x="643" y="620" width="1" height="2"/>
<rect x="647" y="617" width="1" height="4"/>
<rect x="651" y="613" width="1" height="8"/>
<rect x="655" y="610" width="1" height="11"/>
<rect x="659" y="607" width="1" height="14"/>
<rect x="663" y="603" width="1" height="18"/>
<rect x="667" y="600" width="1" height="21"/>
<rect x="671" y="596" width="1" height="25"/>
<rect x="675" y="593" width="1" height="28"/>
<rect x="679" y="591" width="1" height="30"/>
<rect x="683" y="589" width="1" height="32"/>
<rect x="687" y="587" width="1" height="34"/>
<rect x="691" y="583" width="1" height="38"/>
<rect x="695" y="580" width="1" height="41"/>
<rect x="699" y="578" width="1" height="43"/>
<rect x="703" y="578" width="1" height="43"/>
<rect x="707" y="577" width="1" height="44"/>
<rect x="711" y="579" width="1" height="42"/>
<rect x="715" y="580" width="1" height="41"/>
<rect x="719" y="580" width="1" height="41"/>
<rect x="723" y="581" width="1" height="40"/>
<rect x="727" y="582" width="1" height="39"/>
<rect x="731" y="584" width="1" height="37"/>
<rect x="735" y="586" width="1" height="35"/>
<rect x="739" y="594" width="1" height="27"/>
<rect x="743" y="601" width="1" height="20"/>
<rect x="747" y="607" width="1" height="14"/>
<rect x="751" y="610" width="1" height="11"/>
<rect x="755" y="614" width="1" height="7"/>
<rect x="759" y="615" width="1" height="6"/>
<rect x="763" y="614" width="1" height="7"/>
<rect x="767" y="614" width="1" height="7"/>
<rect x="771" y="615" width="1" height="6"/>
<rect x="775" y="616" width="1" height="5"/>
<rect x="779" y="616" width="1" height="5"/>
<rect x="783" y="616" width="1" height="5"/>
<rect x="787" y="615" width="1" height="6"/>
<rect x="791" y="614" width="1" height="7"/>
<rect x="795" y="617" width="1" height="4"/>
<rect x="799" y="620" width="1" height="3"/>
<rect x="803" y="620" width="1" height="8"/>
<rect x="807" y="620" width="1" height="8"/>
<rect x="811" y="620" width="1" height="8"/>
<rect x="815" y="620" width="1" height="7"/>
<rect x="819" y="620" width="1" height="7"/>
<rect x="823" y="620" width="1" height="3"/>
<rect x="827" y="620" width="1" height="2"/>
<rect x="831" y="619" width="1" height="2"/>
<rect x="835" y="617" width="1" height="4"/>
<rect x="839" y="617" width="1" height="4"/>
<rect x="843" y="618" width="1" height="3"/>
<rect x="847" y="619" width="1" height="2"/>
<rect x="851" y="619" width="1" height="2"/>
<rect x="855" y="619" width="1" height="2"/>
<rect x="859" y="620" width="1" height="1"/>
<rect x="863" y="620" width="1" height="1"/>
<rect x="867" y="619" width="1" height="2"/>
<rect x="871" y="618" width="1" height="3"/>
<rect x="875" y="617" width="1" height="4"/>
<rect x="879" y="614" width="1" height="7"/>
<rect x="883" y="613" width="1" height="8"/>
<rect x="887" y="613" width="1" height="8"/>
<rect x="891" y="611" width="1" height="10"/>
<rect x="895" y="610" width="1" height="11"/>
<rect x="899" y="608" width="1" height="13"/>
<rect x="903" y="608" width="1" height="13"/>
<rect x="907" y="607" width="1" height="14"/>
<rect x="911" y="605" width="1" height="16"/>
<rect x="915" y="603" width="1" height="18"/>
<rect x="919" y="602" width="1" height="19"/>
<rect x="923" y="601" width="1" height="20"/>
<rect x="927" y="601" width="1" height="20"/>
<rect x="931" y="601" width="1" height="20"/>
<rect x="935" y="603" width="1" height="18"/>
<rect x="939" y="606" width="1" height="15"/>
<rect x="943" y="608" width="1" height="13"/>
<rect x="947" y="611" width="1" height="10"/>
<rect x="951" y="614" width="1" height="7"/>
<rect x="955" y="616" width="1" height="5"/>
<rect x="959" y="615" width="1" height="6"/>
<rect x="963" y="614" width="1" height="7"/>
<rect x="967" y="614" width="1" height="7"/>
<rect x="971" y="613" width="1" height="8"/>
<rect x="975" y="613" width="1" height="8"/>
<rect x="979" y="614" width="1" height="7"/>
<rect x="983" y="614" width="1" height="7"/>
<rect x="987" y="616" width="1" height="5"/>
<rect x="991" y="619" width="1" height="2"/>
<rect x="995" y="620" width="1" height="1"/>
<rect x="999" y="620" width="1" height="2"/>
<rect x="1003" y="619" width="1" height="2"/>
<rect x="1007" y="620" width="1" height="4"/>
<rect x="1011" y="620" width="1" height="7"/>
<rect x="1015" y="620" width="1" height="7"/>
<rect x="1019" y="620" width="1" height="9"/>
<rect x="1023" y="620" width="1" height="9"/>
<rect x="1027" y="620" width="1" height="10"/>
<rect x="1031" y="620" width="1" height="11"/>
<rect x="1035" y="620" width="1" height="8"/>
<rect x="1039" y="620" width="1" height="5"/>
<rect x="1043" y="620" width="1" height="4"/>
<rect x="1047" y="620" width="1" height="3"/>
<rect x="1051" y="620" width="1" height="2"/>
</g>
<polyline points="3.3,588.3 11.4,590.4 22.8,594.5 29.4,600.2 37.5,608.3 47.3,612.7 58.7,612.4 68.5,607.2 78.3,603.4 88.9,604.3 97.9,607.8 110.9,610.0 122.3,607.8 133.8,603.4 146.8,596.9 159.9,592.8 172.9,590.4 184.3,589.2 195.8,589.6 207.2,592.0 217.0,595.3 228.4,595.3 241.4,594.1 251.2,588.8 261.0,588.3 270.0,587.1 281.9,587.1 290.8,590.4 300.6,594.1 312.0,599.0 323.5,600.2 333.3,597.7 343.0,595.3 351.2,592.5 365.9,592.5 382.2,594.1 398.5,593.7 411.6,594.1 423.0,600.2 437.7,609.2 444.2,613.2 455.6,612.1 468.7,607.8 480.1,603.9 489.9,601.0 499.7,599.0 512.7,598.5 524.1,598.5 532.3,600.2 545.8,603.4 555.6,610.0 568.6,618.9 581.7,629.5 593.1,637.2 604.5,645.9 614.3,649.6 624.1,648.6 633.9,641.5 646.9,631.2 658.3,621.4 671.4,610.8 682.8,601.0 694.2,591.2 704.0,585.5 715.4,580.1 726.9,578.5 738.3,581.1 749.7,589.6 764.4,602.6 774.2,609.5 784.0,614.0 797.0,614.4 803.5,617.3 807.3,618.1 815.4,621.9 826.8,624.6 836.6,623.0 846.4,619.8 859.5,619.3 872.5,618.9 882.3,617.3 895.4,614.0 908.4,609.5 921.5,605.1 932.9,603.0 944.3,602.3 957.3,606.7 970.4,611.6 983.4,613.2 999.8,615.7 1009.5,619.3 1021.0,622.2 1032.4,626.3 1043.8,627.4 1050.3,627.4" fill="none" stroke="#000" stroke-width="1" stroke-dasharray="3 3" shape-rendering="crispEdges"/>
<text x="1608.5" y="582.5" font-size="9.8" font-weight="normal" fill="#1e1e1e" textLength="32.5" lengthAdjust="spacingAndGlyphs">103.954</text>
<text x="1608.5" y="624.0" font-size="9.8" font-weight="normal" fill="#1e1e1e" textLength="17.5" lengthAdjust="spacingAndGlyphs">0.00</text>
<text x="1608.5" y="656.0" font-size="9.8" font-weight="normal" fill="#1e1e1e" textLength="30.5" lengthAdjust="spacingAndGlyphs">-83.718</text>
<rect x="1605" y="620" width="2" height="1" fill="#404040" shape-rendering="crispEdges"/>
<g shape-rendering="crispEdges" fill="#404040">
<rect x="3" y="660" width="1" height="3"/>
<rect x="67" y="660" width="1" height="3"/>
<rect x="131" y="660" width="1" height="3"/>
<rect x="195" y="660" width="1" height="3"/>
<rect x="259" y="660" width="1" height="3"/>
<rect x="323" y="660" width="1" height="3"/>
<rect x="387" y="660" width="1" height="3"/>
<rect x="451" y="660" width="1" height="3"/>
<rect x="515" y="660" width="1" height="3"/>
<rect x="579" y="660" width="1" height="3"/>
<rect x="643" y="660" width="1" height="3"/>
<rect x="707" y="660" width="1" height="3"/>
<rect x="771" y="660" width="1" height="3"/>
<rect x="835" y="660" width="1" height="3"/>
<rect x="899" y="660" width="1" height="3"/>
<rect x="963" y="660" width="1" height="3"/>
<rect x="1027" y="660" width="1" height="3"/>
</g>
<text x="3.0" y="672.0" font-size="9.8" font-weight="normal" fill="#1e1e1e" textLength="49.5" lengthAdjust="spacingAndGlyphs">15 Jun 2021</text>
<text x="67.0" y="672.0" font-size="9.8" font-weight="normal" fill="#1e1e1e" textLength="52.0" lengthAdjust="spacingAndGlyphs">18 Jun 12:00</text>
<text x="131.0" y="672.0" font-size="9.8" font-weight="normal" fill="#1e1e1e" textLength="52.0" lengthAdjust="spacingAndGlyphs">23 Jun 00:00</text>
<text x="195.0" y="672.0" font-size="9.8" font-weight="normal" fill="#1e1e1e" textLength="52.0" lengthAdjust="spacingAndGlyphs">25 Jun 16:00</text>
<text x="259.0" y="672.0" font-size="9.8" font-weight="normal" fill="#1e1e1e" textLength="52.0" lengthAdjust="spacingAndGlyphs">30 Jun 04:00</text>
<text x="323.0" y="672.0" font-size="9.8" font-weight="normal" fill="#1e1e1e" textLength="44.0" lengthAdjust="spacingAndGlyphs">2 Jul 20:00</text>
<text x="387.0" y="672.0" font-size="9.8" font-weight="normal" fill="#1e1e1e" textLength="44.0" lengthAdjust="spacingAndGlyphs">7 Jul 08:00</text>
<text x="451.0" y="672.0" font-size="9.8" font-weight="normal" fill="#1e1e1e" textLength="48.4" lengthAdjust="spacingAndGlyphs">11 Jul 23:00</text>
<text x="515.0" y="672.0" font-size="9.8" font-weight="normal" fill="#1e1e1e" textLength="49.0" lengthAdjust="spacingAndGlyphs">14 Jul 12:00</text>
<text x="579.0" y="672.0" font-size="9.8" font-weight="normal" fill="#1e1e1e" textLength="49.0" lengthAdjust="spacingAndGlyphs">19 Jul 00:00</text>
<text x="643.0" y="672.0" font-size="9.8" font-weight="normal" fill="#1e1e1e" textLength="49.0" lengthAdjust="spacingAndGlyphs">21 Jul 16:00</text>
<text x="707.0" y="672.0" font-size="9.8" font-weight="normal" fill="#1e1e1e" textLength="49.0" lengthAdjust="spacingAndGlyphs">26 Jul 04:00</text>
<text x="771.0" y="672.0" font-size="9.8" font-weight="normal" fill="#1e1e1e" textLength="49.0" lengthAdjust="spacingAndGlyphs">28 Jul 20:00</text>
<text x="835.0" y="672.0" font-size="9.8" font-weight="normal" fill="#1e1e1e" textLength="48.0" lengthAdjust="spacingAndGlyphs">2 Aug 08:00</text>
<text x="899.0" y="672.0" font-size="9.8" font-weight="normal" fill="#1e1e1e" textLength="48.0" lengthAdjust="spacingAndGlyphs">5 Aug 00:00</text>
<text x="963.0" y="672.0" font-size="9.8" font-weight="normal" fill="#1e1e1e" textLength="48.0" lengthAdjust="spacingAndGlyphs">9 Aug 12:00</text>
<text x="1027.0" y="672.0" font-size="9.8" font-weight="normal" fill="#1e1e1e" textLength="53.0" lengthAdjust="spacingAndGlyphs">12 Aug 04:00</text>
</svg>
</body></html>
